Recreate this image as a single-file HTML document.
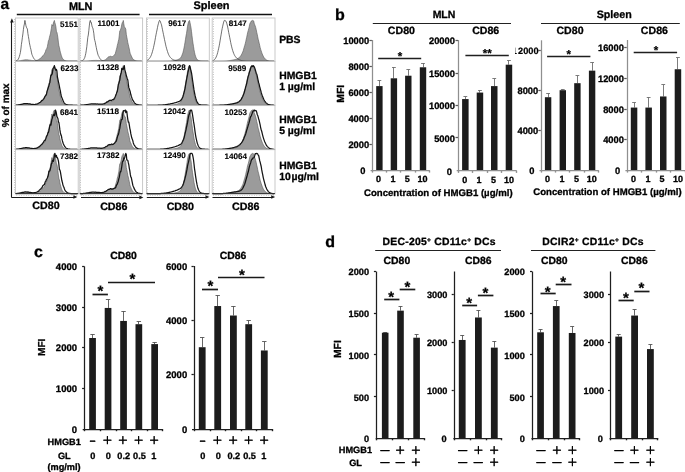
<!DOCTYPE html>
<html lang="en"><head><meta charset="utf-8"><title>Figure</title>
<style>
html,body{margin:0;padding:0;background:#fff;}
body{width:685px;height:472px;overflow:hidden;font-family:'Liberation Sans', Arial, Helvetica, sans-serif;}
svg{display:block;font-family:'Liberation Sans', Arial, Helvetica, sans-serif;}
text{stroke:#000;stroke-width:0.3px;stroke-linejoin:round;text-rendering:geometricPrecision;}
</style></head><body>
<svg width="685" height="472" viewBox="0 0 685 472">
<rect x="0" y="0" width="685" height="472" fill="#ffffff"/>
<g id="panelA">
<rect x="15.40" y="18.00" width="62.80" height="43.50" fill="#fff" stroke="#c4c4c4" stroke-width="0.9"/>
<path d="M15.90,61.13 L16.40,61.11 L16.90,61.09 L17.40,61.06 L17.90,61.01 L18.40,60.97 L18.90,60.90 L19.40,60.84 L19.90,60.78 L20.40,60.72 L20.90,60.61 L21.40,60.46 L21.90,60.39 L22.40,60.31 L22.90,60.23 L23.40,60.11 L23.90,60.02 L24.40,59.95 L24.90,59.80 L25.40,59.81 L25.90,59.86 L26.40,59.87 L26.90,59.83 L27.40,59.79 L27.90,59.92 L28.40,59.98 L28.90,60.04 L29.40,60.14 L29.90,60.18 L30.40,60.24 L30.90,60.26 L31.40,60.39 L31.90,60.50 L32.40,60.52 L32.90,60.56 L33.40,60.58 L33.90,60.62 L34.40,60.63 L34.90,60.62 L35.40,60.62 L35.90,60.52 L36.40,60.38 L36.90,60.25 L37.40,60.12 L37.90,59.99 L38.40,59.66 L38.90,59.38 L39.40,59.05 L39.90,58.62 L40.40,58.29 L40.90,57.92 L41.40,57.67 L41.90,56.91 L42.40,56.07 L42.90,55.72 L43.40,55.21 L43.90,54.72 L44.40,53.72 L44.90,52.83 L45.40,51.78 L45.90,49.88 L46.40,49.15 L46.90,48.18 L47.40,46.51 L47.90,43.80 L48.40,40.78 L48.90,39.97 L49.40,37.53 L49.90,35.45 L50.40,33.92 L50.90,30.93 L51.40,28.23 L51.90,24.51 L52.40,25.45 L52.90,26.03 L53.40,22.87 L53.90,21.50 L54.40,20.40 L54.90,22.87 L55.40,24.31 L55.90,26.78 L56.40,31.37 L56.90,32.23 L57.40,34.38 L57.90,37.75 L58.40,42.14 L58.90,45.80 L59.40,47.46 L59.90,50.15 L60.40,52.24 L60.90,53.98 L61.40,55.76 L61.90,57.13 L62.40,58.29 L62.90,58.84 L63.40,59.39 L63.90,59.94 L64.40,60.30 L64.90,60.56 L65.40,60.71 L65.90,60.84 L66.40,60.93 L66.90,60.98 L67.40,61.04 L67.90,61.07 L68.40,61.10 L68.90,61.11 L69.40,61.12 L69.90,61.14 L70.40,61.14 L70.90,61.15 L71.40,61.16 L71.90,61.16 L72.40,61.17 L72.90,61.17 L73.40,61.18 L73.90,61.18 L74.40,61.18 L74.90,61.18 L75.40,61.18 L75.90,61.19 L76.40,61.19 L76.90,61.19 L77.40,61.19 L77.40,61.20 L15.90,61.20 Z" fill="#9b9b9b" stroke="#555" stroke-width="0.6" stroke-linejoin="round"/>
<path d="M15.90,60.90 L16.40,60.78 L16.90,60.60 L17.40,60.23 L17.90,59.71 L18.40,58.97 L18.90,57.80 L19.40,56.38 L19.90,54.50 L20.40,52.45 L20.90,49.02 L21.40,44.45 L21.90,41.15 L22.40,37.33 L22.90,33.90 L23.40,29.51 L23.90,26.08 L24.40,24.04 L24.90,20.40 L25.40,22.61 L25.90,25.53 L26.40,27.23 L26.90,28.12 L27.40,29.04 L27.90,33.52 L28.40,36.49 L28.90,39.42 L29.40,42.87 L29.90,45.20 L30.40,47.59 L30.90,49.45 L31.40,52.11 L31.90,54.35 L32.40,55.53 L32.90,56.72 L33.40,57.68 L33.90,58.59 L34.40,59.24 L34.90,59.73 L35.40,60.18 L35.90,60.40 L36.40,60.58 L36.90,60.74 L37.40,60.87 L37.90,60.96 L38.40,61.00 L38.90,61.04 L39.40,61.07 L39.90,61.09 L40.40,61.11 L40.90,61.12 L41.40,61.14 L41.90,61.14 L42.40,61.15 L42.90,61.16 L43.40,61.16 L43.90,61.17 L44.40,61.17 L44.90,61.17 L45.40,61.18 L45.90,61.18 L46.40,61.18 L46.90,61.18 L47.40,61.19 L47.90,61.19 L48.40,61.19 L48.90,61.19 L49.40,61.19 L49.90,61.19 L50.40,61.19 L50.90,61.19 L51.40,61.19 L51.90,61.20 L52.40,61.20 L52.90,61.20 L53.40,61.20 L53.90,61.20 L54.40,61.20 L54.90,61.20 L55.40,61.20 L55.90,61.20 L56.40,61.20 L56.90,61.20 L57.40,61.20 L57.90,61.20 L58.40,61.20 L58.90,61.20 L59.40,61.20 L59.90,61.20 L60.40,61.20 L60.90,61.20 L61.40,61.20 L61.90,61.20 L62.40,61.20 L62.90,61.20 L63.40,61.20 L63.90,61.20 L64.40,61.20 L64.90,61.20 L65.40,61.20 L65.90,61.20 L66.40,61.20 L66.90,61.20 L67.40,61.20 L67.90,61.20 L68.40,61.20 L68.90,61.20 L69.40,61.20 L69.90,61.20 L70.40,61.20 L70.90,61.20 L71.40,61.20 L71.90,61.20 L72.40,61.20 L72.90,61.20 L73.40,61.20 L73.90,61.20 L74.40,61.20 L74.90,61.20 L75.40,61.20 L75.90,61.20 L76.40,61.20 L76.90,61.20 L77.40,61.20" fill="none" stroke="#333" stroke-width="0.7" stroke-linejoin="round"/>
<line x1="15.40" y1="61.50" x2="78.20" y2="61.50" stroke="#333" stroke-width="0.9" />
<rect x="15.40" y="61.50" width="62.80" height="44.10" fill="#fff" stroke="#c4c4c4" stroke-width="0.9"/>
<path d="M15.90,105.23 L16.40,105.22 L16.90,105.20 L17.40,105.16 L17.90,105.12 L18.40,105.07 L18.90,105.01 L19.40,104.95 L19.90,104.89 L20.40,104.83 L20.90,104.72 L21.40,104.57 L21.90,104.52 L22.40,104.43 L22.90,104.36 L23.40,104.24 L23.90,104.15 L24.40,104.08 L24.90,103.93 L25.40,103.96 L25.90,104.00 L26.40,104.00 L26.90,103.96 L27.40,103.93 L27.90,104.06 L28.40,104.11 L28.90,104.17 L29.40,104.27 L29.90,104.30 L30.40,104.36 L30.90,104.39 L31.40,104.51 L31.90,104.62 L32.40,104.64 L32.90,104.68 L33.40,104.70 L33.90,104.74 L34.40,104.75 L34.90,104.73 L35.40,104.73 L35.90,104.63 L36.40,104.50 L36.90,104.37 L37.40,104.26 L37.90,104.12 L38.40,103.79 L38.90,103.53 L39.40,103.20 L39.90,102.78 L40.40,102.47 L40.90,102.12 L41.40,101.85 L41.90,101.08 L42.40,100.30 L42.90,99.99 L43.40,99.47 L43.90,98.97 L44.40,98.00 L44.90,97.15 L45.40,96.07 L45.90,94.25 L46.40,93.64 L46.90,92.65 L47.40,90.92 L47.90,88.24 L48.40,85.44 L48.90,84.69 L49.40,82.20 L49.90,80.24 L50.40,78.74 L50.90,75.71 L51.40,72.99 L51.90,69.60 L52.40,70.75 L52.90,70.99 L53.40,67.74 L53.90,66.54 L54.40,65.60 L54.90,67.97 L55.40,69.32 L55.90,71.92 L56.40,76.24 L56.90,76.86 L57.40,79.10 L57.90,82.55 L58.40,86.83 L58.90,90.24 L59.40,91.87 L59.90,94.55 L60.40,96.55 L60.90,98.26 L61.40,100.01 L61.90,101.35 L62.40,102.45 L62.90,102.98 L63.40,103.54 L63.90,104.08 L64.40,104.42 L64.90,104.67 L65.40,104.82 L65.90,104.95 L66.40,105.03 L66.90,105.08 L67.40,105.14 L67.90,105.18 L68.40,105.20 L68.90,105.21 L69.40,105.22 L69.90,105.24 L70.40,105.25 L70.90,105.25 L71.40,105.26 L71.90,105.26 L72.40,105.27 L72.90,105.27 L73.40,105.28 L73.90,105.28 L74.40,105.28 L74.90,105.28 L75.40,105.29 L75.90,105.29 L76.40,105.29 L76.90,105.29 L77.40,105.29 L77.40,105.30 L15.90,105.30 Z" fill="#9b9b9b" stroke="#555" stroke-width="0.6" stroke-linejoin="round"/>
<path d="M15.90,105.16 L16.40,105.12 L16.90,105.07 L17.40,105.01 L17.90,104.95 L18.40,104.86 L18.90,104.82 L19.40,104.76 L19.90,104.62 L20.40,104.49 L20.90,104.36 L21.40,104.32 L21.90,104.22 L22.40,104.07 L22.90,104.02 L23.40,103.84 L23.90,103.71 L24.40,103.64 L24.90,103.68 L25.40,103.72 L25.90,103.50 L26.40,103.50 L26.90,103.56 L27.40,103.63 L27.90,103.73 L28.40,103.77 L28.90,103.91 L29.40,103.88 L29.90,103.91 L30.40,104.10 L30.90,104.22 L31.40,104.32 L31.90,104.31 L32.40,104.37 L32.90,104.45 L33.40,104.45 L33.90,104.51 L34.40,104.51 L34.90,104.47 L35.40,104.35 L35.90,104.21 L36.40,104.20 L36.90,104.04 L37.40,103.84 L37.90,103.59 L38.40,103.29 L38.90,103.03 L39.40,102.60 L39.90,102.49 L40.40,102.24 L40.90,101.60 L41.40,101.03 L41.90,100.48 L42.40,100.38 L42.90,99.79 L43.40,99.10 L43.90,98.73 L44.40,97.56 L44.90,96.61 L45.40,95.70 L45.90,95.36 L46.40,94.52 L46.90,91.82 L47.40,90.32 L47.90,88.75 L48.40,87.28 L48.90,85.70 L49.40,83.49 L49.90,82.41 L50.40,78.02 L50.90,75.15 L51.40,75.25 L51.90,74.43 L52.40,73.08 L52.90,68.60 L53.40,67.94 L53.90,67.53 L54.40,65.60 L54.90,68.06 L55.40,69.26 L55.90,70.30 L56.40,69.32 L56.90,71.00 L57.40,76.83 L57.90,79.05 L58.40,81.57 L58.90,83.78 L59.40,86.30 L59.90,89.07 L60.40,91.06 L60.90,94.50 L61.40,96.55 L61.90,97.65 L62.40,98.98 L62.90,100.28 L63.40,101.70 L63.90,102.45 L64.40,103.09 L64.90,103.67 L65.40,103.99 L65.90,104.31 L66.40,104.56 L66.90,104.79 L67.40,104.91 L67.90,104.97 L68.40,105.05 L68.90,105.10 L69.40,105.14 L69.90,105.17 L70.40,105.19 L70.90,105.21 L71.40,105.22 L71.90,105.23 L72.40,105.24 L72.90,105.25 L73.40,105.26 L73.90,105.26 L74.40,105.26 L74.90,105.27 L75.40,105.27 L75.90,105.28 L76.40,105.28 L76.90,105.28 L77.40,105.28" fill="none" stroke="#141414" stroke-width="1.25" stroke-linejoin="round"/>
<line x1="15.40" y1="105.50" x2="78.20" y2="105.50" stroke="#333" stroke-width="0.9" />
<rect x="15.40" y="105.60" width="62.80" height="44.10" fill="#fff" stroke="#c4c4c4" stroke-width="0.9"/>
<path d="M15.90,149.33 L16.40,149.32 L16.90,149.30 L17.40,149.26 L17.90,149.22 L18.40,149.17 L18.90,149.11 L19.40,149.06 L19.90,148.99 L20.40,148.94 L20.90,148.81 L21.40,148.68 L21.90,148.62 L22.40,148.54 L22.90,148.46 L23.40,148.35 L23.90,148.26 L24.40,148.18 L24.90,148.04 L25.40,148.08 L25.90,148.11 L26.40,148.10 L26.90,148.06 L27.40,148.04 L27.90,148.17 L28.40,148.21 L28.90,148.28 L29.40,148.37 L29.90,148.41 L30.40,148.46 L30.90,148.49 L31.40,148.62 L31.90,148.72 L32.40,148.74 L32.90,148.78 L33.40,148.80 L33.90,148.84 L34.40,148.85 L34.90,148.84 L35.40,148.84 L35.90,148.73 L36.40,148.60 L36.90,148.48 L37.40,148.37 L37.90,148.22 L38.40,147.89 L38.90,147.64 L39.40,147.31 L39.90,146.89 L40.40,146.60 L40.90,146.26 L41.40,145.96 L41.90,145.17 L42.40,144.43 L42.90,144.15 L43.40,143.61 L43.90,143.10 L44.40,142.14 L44.90,141.30 L45.40,140.18 L45.90,138.42 L46.40,137.89 L46.90,136.85 L47.40,135.03 L47.90,132.34 L48.40,129.72 L48.90,128.98 L49.40,126.40 L49.90,124.54 L50.40,123.02 L50.90,119.88 L51.40,117.13 L51.90,114.01 L52.40,115.35 L52.90,115.22 L53.40,111.86 L53.90,110.83 L54.40,110.00 L54.90,112.30 L55.40,113.62 L55.90,116.38 L56.40,120.49 L56.90,120.92 L57.40,123.31 L57.90,126.91 L58.40,131.14 L58.90,134.37 L59.40,136.01 L59.90,138.73 L60.40,140.68 L60.90,142.40 L61.40,144.16 L61.90,145.50 L62.40,146.56 L62.90,147.08 L63.40,147.65 L63.90,148.19 L64.40,148.53 L64.90,148.78 L65.40,148.93 L65.90,149.05 L66.40,149.13 L66.90,149.19 L67.40,149.24 L67.90,149.28 L68.40,149.30 L68.90,149.31 L69.40,149.32 L69.90,149.34 L70.40,149.35 L70.90,149.35 L71.40,149.36 L71.90,149.36 L72.40,149.37 L72.90,149.37 L73.40,149.38 L73.90,149.38 L74.40,149.38 L74.90,149.38 L75.40,149.39 L75.90,149.39 L76.40,149.39 L76.90,149.39 L77.40,149.39 L77.40,149.40 L15.90,149.40 Z" fill="#9b9b9b" stroke="#555" stroke-width="0.6" stroke-linejoin="round"/>
<path d="M15.90,149.25 L16.40,149.22 L16.90,149.17 L17.40,149.11 L17.90,149.07 L18.40,149.02 L18.90,148.94 L19.40,148.80 L19.90,148.72 L20.40,148.66 L20.90,148.54 L21.40,148.46 L21.90,148.33 L22.40,148.23 L22.90,148.05 L23.40,147.93 L23.90,148.00 L24.40,147.92 L24.90,147.80 L25.40,147.67 L25.90,147.65 L26.40,147.74 L26.90,147.71 L27.40,147.84 L27.90,147.90 L28.40,147.86 L28.90,147.90 L29.40,147.99 L29.90,148.21 L30.40,148.25 L30.90,148.27 L31.40,148.36 L31.90,148.40 L32.40,148.48 L32.90,148.52 L33.40,148.60 L33.90,148.61 L34.40,148.49 L34.90,148.45 L35.40,148.41 L35.90,148.35 L36.40,148.19 L36.90,147.95 L37.40,147.79 L37.90,147.42 L38.40,147.12 L38.90,146.94 L39.40,146.65 L39.90,146.22 L40.40,145.40 L40.90,145.06 L41.40,144.76 L41.90,144.16 L42.40,143.75 L42.90,142.97 L43.40,142.38 L43.90,141.23 L44.40,140.49 L44.90,140.67 L45.40,139.60 L45.90,138.26 L46.40,136.53 L46.90,135.56 L47.40,134.83 L47.90,132.85 L48.40,132.47 L48.90,130.70 L49.40,127.83 L49.90,125.49 L50.40,124.15 L50.90,125.12 L51.40,122.20 L51.90,119.39 L52.40,118.13 L52.90,115.86 L53.40,115.45 L53.90,114.18 L54.40,115.67 L54.90,114.42 L55.40,110.00 L55.90,111.25 L56.40,113.43 L56.90,116.65 L57.40,117.43 L57.90,118.47 L58.40,121.87 L58.90,122.67 L59.40,125.97 L59.90,129.89 L60.40,132.90 L60.90,134.87 L61.40,135.84 L61.90,138.70 L62.40,140.92 L62.90,142.48 L63.40,144.01 L63.90,145.02 L64.40,146.00 L64.90,146.59 L65.40,147.31 L65.90,147.97 L66.40,148.28 L66.90,148.53 L67.40,148.71 L67.90,148.90 L68.40,149.03 L68.90,149.11 L69.40,149.19 L69.90,149.22 L70.40,149.25 L70.90,149.27 L71.40,149.30 L71.90,149.32 L72.40,149.33 L72.90,149.34 L73.40,149.34 L73.90,149.35 L74.40,149.36 L74.90,149.36 L75.40,149.37 L75.90,149.37 L76.40,149.37 L76.90,149.38 L77.40,149.38" fill="none" stroke="#141414" stroke-width="1.25" stroke-linejoin="round"/>
<line x1="15.40" y1="149.50" x2="78.20" y2="149.50" stroke="#333" stroke-width="0.9" />
<rect x="15.40" y="149.70" width="62.80" height="44.30" fill="#fff" stroke="#c4c4c4" stroke-width="0.9"/>
<path d="M15.90,193.63 L16.40,193.62 L16.90,193.59 L17.40,193.55 L17.90,193.52 L18.40,193.47 L18.90,193.40 L19.40,193.35 L19.90,193.29 L20.40,193.22 L20.90,193.09 L21.40,192.96 L21.90,192.91 L22.40,192.82 L22.90,192.74 L23.40,192.62 L23.90,192.53 L24.40,192.45 L24.90,192.30 L25.40,192.35 L25.90,192.38 L26.40,192.36 L26.90,192.32 L27.40,192.31 L27.90,192.44 L28.40,192.48 L28.90,192.55 L29.40,192.65 L29.90,192.68 L30.40,192.73 L30.90,192.77 L31.40,192.91 L31.90,193.01 L32.40,193.02 L32.90,193.06 L33.40,193.09 L33.90,193.13 L34.40,193.14 L34.90,193.13 L35.40,193.12 L35.90,193.01 L36.40,192.88 L36.90,192.77 L37.40,192.65 L37.90,192.49 L38.40,192.15 L38.90,191.90 L39.40,191.55 L39.90,191.13 L40.40,190.84 L40.90,190.50 L41.40,190.17 L41.90,189.33 L42.40,188.62 L42.90,188.35 L43.40,187.77 L43.90,187.23 L44.40,186.26 L44.90,185.41 L45.40,184.21 L45.90,182.46 L46.40,182.00 L46.90,180.86 L47.40,178.89 L47.90,176.14 L48.40,173.61 L48.90,172.84 L49.40,170.10 L49.90,168.30 L50.40,166.69 L50.90,163.33 L51.40,160.49 L51.90,157.58 L52.40,159.10 L52.90,158.58 L53.40,155.05 L53.90,154.17 L54.40,153.40 L54.90,155.70 L55.40,157.05 L55.90,160.05 L56.40,164.04 L56.90,164.31 L57.40,166.96 L57.90,170.79 L58.40,175.08 L58.90,178.23 L59.40,179.95 L59.90,182.78 L60.40,184.75 L60.90,186.53 L61.40,188.36 L61.90,189.72 L62.40,190.78 L62.90,191.30 L63.40,191.91 L63.90,192.47 L64.40,192.81 L64.90,193.06 L65.40,193.21 L65.90,193.34 L66.40,193.42 L66.90,193.48 L67.40,193.54 L67.90,193.58 L68.40,193.60 L68.90,193.61 L69.40,193.62 L69.90,193.64 L70.40,193.64 L70.90,193.65 L71.40,193.66 L71.90,193.66 L72.40,193.67 L72.90,193.67 L73.40,193.68 L73.90,193.68 L74.40,193.68 L74.90,193.68 L75.40,193.69 L75.90,193.69 L76.40,193.69 L76.90,193.69 L77.40,193.69 L77.40,193.70 L15.90,193.70 Z" fill="#9b9b9b" stroke="#555" stroke-width="0.6" stroke-linejoin="round"/>
<path d="M15.90,193.54 L16.40,193.50 L16.90,193.46 L17.40,193.43 L17.90,193.36 L18.40,193.26 L18.90,193.18 L19.40,193.10 L19.90,193.03 L20.40,192.91 L20.90,192.82 L21.40,192.71 L21.90,192.49 L22.40,192.42 L22.90,192.36 L23.40,192.34 L23.90,192.17 L24.40,191.98 L24.90,192.00 L25.40,191.91 L25.90,191.92 L26.40,191.98 L26.90,192.02 L27.40,192.03 L27.90,191.92 L28.40,192.09 L28.90,192.26 L29.40,192.32 L29.90,192.37 L30.40,192.39 L30.90,192.52 L31.40,192.56 L31.90,192.64 L32.40,192.78 L32.90,192.77 L33.40,192.75 L33.90,192.69 L34.40,192.71 L34.90,192.71 L35.40,192.56 L35.90,192.45 L36.40,192.24 L36.90,191.98 L37.40,191.69 L37.90,191.43 L38.40,191.32 L38.90,190.74 L39.40,190.11 L39.90,189.65 L40.40,189.21 L40.90,188.87 L41.40,188.08 L41.90,187.69 L42.40,186.87 L42.90,185.55 L43.40,185.15 L43.90,184.77 L44.40,184.50 L44.90,182.94 L45.40,181.38 L45.90,180.96 L46.40,179.47 L46.90,178.73 L47.40,177.75 L47.90,176.59 L48.40,174.54 L48.90,171.10 L49.40,171.19 L49.90,170.72 L50.40,168.87 L50.90,166.59 L51.40,163.79 L51.90,163.32 L52.40,160.44 L52.90,160.09 L53.40,161.36 L53.90,158.67 L54.40,156.15 L54.90,153.40 L55.40,155.66 L55.90,156.91 L56.40,155.45 L56.90,157.53 L57.40,157.68 L57.90,159.06 L58.40,160.94 L58.90,164.69 L59.40,169.59 L59.90,170.00 L60.40,171.87 L60.90,174.83 L61.40,177.92 L61.90,180.80 L62.40,182.48 L62.90,184.86 L63.40,186.18 L63.90,187.24 L64.40,188.79 L64.90,190.00 L65.40,190.96 L65.90,191.40 L66.40,191.88 L66.90,192.38 L67.40,192.67 L67.90,192.95 L68.40,193.14 L68.90,193.28 L69.40,193.36 L69.90,193.41 L70.40,193.49 L70.90,193.54 L71.40,193.57 L71.90,193.58 L72.40,193.60 L72.90,193.62 L73.40,193.62 L73.90,193.64 L74.40,193.65 L74.90,193.65 L75.40,193.66 L75.90,193.66 L76.40,193.67 L76.90,193.67 L77.40,193.67" fill="none" stroke="#141414" stroke-width="1.25" stroke-linejoin="round"/>
<line x1="15.40" y1="193.50" x2="78.20" y2="193.50" stroke="#333" stroke-width="0.9" />
<rect x="79.80" y="18.00" width="62.80" height="43.50" fill="#fff" stroke="#c4c4c4" stroke-width="0.9"/>
<path d="M80.30,61.19 L80.80,61.18 L81.30,61.18 L81.80,61.17 L82.30,61.17 L82.80,61.16 L83.30,61.14 L83.80,61.13 L84.30,61.12 L84.80,61.10 L85.30,61.08 L85.80,61.06 L86.30,61.03 L86.80,61.00 L87.30,60.95 L87.80,60.93 L88.30,60.91 L88.80,60.85 L89.30,60.79 L89.80,60.74 L90.30,60.71 L90.80,60.68 L91.30,60.62 L91.80,60.61 L92.30,60.54 L92.80,60.47 L93.30,60.45 L93.80,60.45 L94.30,60.48 L94.80,60.41 L95.30,60.39 L95.80,60.41 L96.30,60.40 L96.80,60.44 L97.30,60.46 L97.80,60.50 L98.30,60.48 L98.80,60.44 L99.30,60.51 L99.80,60.55 L100.30,60.57 L100.80,60.57 L101.30,60.57 L101.80,60.59 L102.30,60.55 L102.80,60.55 L103.30,60.53 L103.80,60.42 L104.30,60.24 L104.80,59.96 L105.30,59.77 L105.80,59.45 L106.30,58.99 L106.80,58.58 L107.30,57.97 L107.80,57.44 L108.30,56.86 L108.80,56.72 L109.30,56.78 L109.80,56.35 L110.30,56.27 L110.80,56.29 L111.30,56.53 L111.80,56.66 L112.30,56.55 L112.80,56.68 L113.30,56.17 L113.80,55.48 L114.30,54.96 L114.80,54.36 L115.30,53.61 L115.80,51.52 L116.30,49.70 L116.80,47.95 L117.30,45.39 L117.80,43.59 L118.30,41.23 L118.80,39.30 L119.30,35.14 L119.80,30.80 L120.30,30.48 L120.80,28.85 L121.30,27.22 L121.80,24.21 L122.30,22.44 L122.80,22.26 L123.30,20.40 L123.80,23.74 L124.30,26.62 L124.80,27.39 L125.30,27.99 L125.80,29.29 L126.30,34.37 L126.80,37.12 L127.30,39.53 L127.80,42.63 L128.30,44.56 L128.80,46.93 L129.30,48.88 L129.80,51.67 L130.30,53.81 L130.80,54.73 L131.30,55.95 L131.80,57.03 L132.30,58.07 L132.80,58.80 L133.30,59.34 L133.80,59.85 L134.30,60.11 L134.80,60.34 L135.30,60.57 L135.80,60.74 L136.30,60.86 L136.80,60.91 L137.30,60.97 L137.80,61.02 L138.30,61.05 L138.80,61.08 L139.30,61.10 L139.80,61.12 L140.30,61.12 L140.80,61.13 L141.30,61.14 L141.80,61.15 L141.80,61.20 L80.30,61.20 Z" fill="#9b9b9b" stroke="#555" stroke-width="0.6" stroke-linejoin="round"/>
<path d="M80.30,61.08 L80.80,61.05 L81.30,60.98 L81.80,60.88 L82.30,60.74 L82.80,60.51 L83.30,60.12 L83.80,59.40 L84.30,58.49 L84.80,57.38 L85.30,55.57 L85.80,53.37 L86.30,50.25 L86.80,46.73 L87.30,42.13 L87.80,37.32 L88.30,35.00 L88.80,30.69 L89.30,25.95 L89.80,21.84 L90.30,20.40 L90.80,22.49 L91.30,22.40 L91.80,25.16 L92.30,27.19 L92.80,27.89 L93.30,30.20 L93.80,33.28 L94.30,38.19 L94.80,40.48 L95.30,42.27 L95.80,45.23 L96.30,47.54 L96.80,50.11 L97.30,52.08 L97.80,54.07 L98.30,55.55 L98.80,56.36 L99.30,57.48 L99.80,58.42 L100.30,59.16 L100.80,59.63 L101.30,59.96 L101.80,60.30 L102.30,60.50 L102.80,60.67 L103.30,60.81 L103.80,60.91 L104.30,60.97 L104.80,61.00 L105.30,61.04 L105.80,61.08 L106.30,61.09 L106.80,61.11 L107.30,61.12 L107.80,61.13 L108.30,61.14 L108.80,61.15 L109.30,61.16 L109.80,61.16 L110.30,61.16 L110.80,61.17 L111.30,61.17 L111.80,61.18 L112.30,61.18 L112.80,61.18 L113.30,61.18 L113.80,61.18 L114.30,61.19 L114.80,61.19 L115.30,61.19 L115.80,61.19 L116.30,61.19 L116.80,61.19 L117.30,61.19 L117.80,61.19 L118.30,61.19 L118.80,61.20 L119.30,61.20 L119.80,61.20 L120.30,61.20 L120.80,61.20 L121.30,61.20 L121.80,61.20 L122.30,61.20 L122.80,61.20 L123.30,61.20 L123.80,61.20 L124.30,61.20 L124.80,61.20 L125.30,61.20 L125.80,61.20 L126.30,61.20 L126.80,61.20 L127.30,61.20 L127.80,61.20 L128.30,61.20 L128.80,61.20 L129.30,61.20 L129.80,61.20 L130.30,61.20 L130.80,61.20 L131.30,61.20 L131.80,61.20 L132.30,61.20 L132.80,61.20 L133.30,61.20 L133.80,61.20 L134.30,61.20 L134.80,61.20 L135.30,61.20 L135.80,61.20 L136.30,61.20 L136.80,61.20 L137.30,61.20 L137.80,61.20 L138.30,61.20 L138.80,61.20 L139.30,61.20 L139.80,61.20 L140.30,61.20 L140.80,61.20 L141.30,61.20 L141.80,61.20" fill="none" stroke="#333" stroke-width="0.7" stroke-linejoin="round"/>
<line x1="79.80" y1="61.50" x2="142.60" y2="61.50" stroke="#333" stroke-width="0.9" />
<rect x="79.80" y="61.50" width="62.80" height="44.10" fill="#fff" stroke="#c4c4c4" stroke-width="0.9"/>
<path d="M80.30,105.29 L80.80,105.28 L81.30,105.28 L81.80,105.27 L82.30,105.27 L82.80,105.26 L83.30,105.25 L83.80,105.23 L84.30,105.22 L84.80,105.21 L85.30,105.18 L85.80,105.16 L86.30,105.13 L86.80,105.10 L87.30,105.06 L87.80,105.04 L88.30,105.02 L88.80,104.96 L89.30,104.90 L89.80,104.86 L90.30,104.82 L90.80,104.79 L91.30,104.73 L91.80,104.72 L92.30,104.66 L92.80,104.58 L93.30,104.58 L93.80,104.58 L94.30,104.59 L94.80,104.52 L95.30,104.51 L95.80,104.54 L96.30,104.52 L96.80,104.56 L97.30,104.58 L97.80,104.61 L98.30,104.59 L98.80,104.56 L99.30,104.64 L99.80,104.67 L100.30,104.69 L100.80,104.69 L101.30,104.69 L101.80,104.70 L102.30,104.66 L102.80,104.67 L103.30,104.65 L103.80,104.54 L104.30,104.36 L104.80,104.10 L105.30,103.92 L105.80,103.60 L106.30,103.14 L106.80,102.75 L107.30,102.15 L107.80,101.63 L108.30,101.09 L108.80,100.98 L109.30,100.99 L109.80,100.54 L110.30,100.49 L110.80,100.54 L111.30,100.76 L111.80,100.88 L112.30,100.79 L112.80,100.91 L113.30,100.37 L113.80,99.72 L114.30,99.26 L114.80,98.69 L115.30,97.89 L115.80,95.83 L116.30,94.13 L116.80,92.41 L117.30,89.91 L117.80,88.21 L118.30,85.94 L118.80,83.94 L119.30,79.74 L119.80,75.77 L120.30,75.62 L120.80,73.86 L121.30,72.14 L121.80,69.24 L122.30,67.64 L122.80,67.30 L123.30,65.60 L123.80,69.11 L124.30,71.70 L124.80,72.21 L125.30,72.82 L125.80,74.37 L126.30,79.33 L126.80,81.82 L127.30,84.21 L127.80,87.24 L128.30,89.07 L128.80,91.37 L129.30,93.35 L129.80,96.10 L130.30,98.09 L130.80,98.96 L131.30,100.19 L131.80,101.25 L132.30,102.26 L132.80,102.96 L133.30,103.49 L133.80,103.99 L134.30,104.23 L134.80,104.47 L135.30,104.69 L135.80,104.86 L136.30,104.97 L136.80,105.02 L137.30,105.08 L137.80,105.12 L138.30,105.15 L138.80,105.18 L139.30,105.20 L139.80,105.22 L140.30,105.22 L140.80,105.23 L141.30,105.24 L141.80,105.25 L141.80,105.30 L80.30,105.30 Z" fill="#9b9b9b" stroke="#555" stroke-width="0.6" stroke-linejoin="round"/>
<path d="M80.30,105.23 L80.80,105.22 L81.30,105.20 L81.80,105.17 L82.30,105.13 L82.80,105.10 L83.30,105.07 L83.80,105.02 L84.30,104.98 L84.80,104.91 L85.30,104.84 L85.80,104.74 L86.30,104.68 L86.80,104.67 L87.30,104.55 L87.80,104.44 L88.30,104.31 L88.80,104.25 L89.30,104.19 L89.80,104.08 L90.30,104.09 L90.80,103.98 L91.30,103.83 L91.80,103.76 L92.30,103.78 L92.80,103.89 L93.30,103.79 L93.80,103.76 L94.30,103.79 L94.80,103.78 L95.30,103.85 L95.80,103.88 L96.30,104.01 L96.80,103.98 L97.30,103.89 L97.80,104.00 L98.30,104.08 L98.80,104.16 L99.30,104.15 L99.80,104.16 L100.30,104.21 L100.80,104.14 L101.30,104.18 L101.80,104.22 L102.30,104.19 L102.80,104.05 L103.30,103.83 L103.80,103.78 L104.30,103.63 L104.80,103.39 L105.30,103.19 L105.80,102.83 L106.30,102.49 L106.80,101.96 L107.30,101.79 L107.80,101.79 L108.30,101.29 L108.80,100.88 L109.30,100.46 L109.80,100.45 L110.30,100.41 L110.80,100.25 L111.30,100.55 L111.80,100.20 L112.30,99.78 L112.80,99.50 L113.30,99.47 L113.80,99.51 L114.30,98.40 L114.80,97.52 L115.30,96.53 L115.80,95.08 L116.30,93.91 L116.80,92.32 L117.30,91.41 L117.80,88.37 L118.30,84.58 L118.80,83.23 L119.30,81.47 L119.80,80.09 L120.30,76.47 L120.80,74.01 L121.30,72.44 L121.80,68.26 L122.30,68.78 L122.80,69.51 L123.30,69.23 L123.80,67.38 L124.30,65.60 L124.80,69.82 L125.30,71.47 L125.80,73.25 L126.30,75.75 L126.80,77.05 L127.30,79.07 L127.80,79.89 L128.30,84.00 L128.80,87.69 L129.30,88.82 L129.80,90.50 L130.30,92.06 L130.80,94.54 L131.30,96.21 L131.80,97.62 L132.30,99.36 L132.80,100.10 L133.30,100.87 L133.80,101.69 L134.30,102.58 L134.80,103.27 L135.30,103.55 L135.80,103.92 L136.30,104.21 L136.80,104.43 L137.30,104.64 L137.80,104.78 L138.30,104.92 L138.80,104.97 L139.30,105.02 L139.80,105.08 L140.30,105.12 L140.80,105.16 L141.30,105.17 L141.80,105.19" fill="none" stroke="#141414" stroke-width="1.25" stroke-linejoin="round"/>
<line x1="79.80" y1="105.50" x2="142.60" y2="105.50" stroke="#333" stroke-width="0.9" />
<rect x="79.80" y="105.60" width="62.80" height="44.10" fill="#fff" stroke="#c4c4c4" stroke-width="0.9"/>
<path d="M80.30,149.39 L80.80,149.38 L81.30,149.38 L81.80,149.37 L82.30,149.37 L82.80,149.36 L83.30,149.35 L83.80,149.33 L84.30,149.32 L84.80,149.31 L85.30,149.28 L85.80,149.26 L86.30,149.23 L86.80,149.20 L87.30,149.16 L87.80,149.14 L88.30,149.12 L88.80,149.06 L89.30,149.01 L89.80,148.96 L90.30,148.93 L90.80,148.89 L91.30,148.84 L91.80,148.83 L92.30,148.76 L92.80,148.69 L93.30,148.68 L93.80,148.69 L94.30,148.70 L94.80,148.63 L95.30,148.62 L95.80,148.64 L96.30,148.63 L96.80,148.67 L97.30,148.69 L97.80,148.72 L98.30,148.69 L98.80,148.67 L99.30,148.74 L99.80,148.77 L100.30,148.79 L100.80,148.79 L101.30,148.79 L101.80,148.81 L102.30,148.77 L102.80,148.78 L103.30,148.76 L103.80,148.64 L104.30,148.46 L104.80,148.21 L105.30,148.04 L105.80,147.70 L106.30,147.26 L106.80,146.87 L107.30,146.27 L107.80,145.74 L108.30,145.23 L108.80,145.15 L109.30,145.11 L109.80,144.65 L110.30,144.63 L110.80,144.68 L111.30,144.90 L111.80,145.00 L112.30,144.93 L112.80,145.04 L113.30,144.47 L113.80,143.86 L114.30,143.44 L114.80,142.86 L115.30,142.01 L115.80,139.95 L116.30,138.34 L116.80,136.60 L117.30,134.12 L117.80,132.48 L118.30,130.23 L118.80,128.12 L119.30,123.83 L119.80,120.15 L120.30,120.13 L120.80,118.18 L121.30,116.37 L121.80,113.53 L122.30,112.04 L122.80,111.55 L123.30,110.00 L123.80,113.72 L124.30,116.04 L124.80,116.33 L125.30,117.01 L125.80,118.82 L126.30,123.73 L126.80,126.03 L127.30,128.47 L127.80,131.47 L128.30,133.23 L128.80,135.53 L129.30,137.57 L129.80,140.34 L130.30,142.21 L130.80,143.07 L131.30,144.33 L131.80,145.39 L132.30,146.39 L132.80,147.08 L133.30,147.61 L133.80,148.10 L134.30,148.33 L134.80,148.57 L135.30,148.80 L135.80,148.96 L136.30,149.07 L136.80,149.12 L137.30,149.18 L137.80,149.23 L138.30,149.26 L138.80,149.28 L139.30,149.30 L139.80,149.32 L140.30,149.32 L140.80,149.33 L141.30,149.35 L141.80,149.35 L141.80,149.40 L80.30,149.40 Z" fill="#9b9b9b" stroke="#555" stroke-width="0.6" stroke-linejoin="round"/>
<path d="M80.30,149.33 L80.80,149.31 L81.30,149.28 L81.80,149.26 L82.30,149.23 L82.80,149.20 L83.30,149.16 L83.80,149.12 L84.30,149.05 L84.80,148.96 L85.30,148.92 L85.80,148.87 L86.30,148.81 L86.80,148.67 L87.30,148.56 L87.80,148.51 L88.30,148.38 L88.80,148.33 L89.30,148.27 L89.80,148.18 L90.30,148.04 L90.80,147.87 L91.30,147.95 L91.80,147.94 L92.30,147.87 L92.80,147.81 L93.30,147.76 L93.80,147.82 L94.30,147.77 L94.80,147.88 L95.30,147.99 L95.80,147.93 L96.30,147.90 L96.80,147.90 L97.30,148.06 L97.80,148.13 L98.30,148.11 L98.80,148.19 L99.30,148.17 L99.80,148.18 L100.30,148.20 L100.80,148.28 L101.30,148.35 L101.80,148.20 L102.30,148.12 L102.80,148.06 L103.30,147.98 L103.80,147.87 L104.30,147.62 L104.80,147.48 L105.30,147.08 L105.80,146.63 L106.30,146.47 L106.80,146.25 L107.30,146.02 L107.80,145.35 L108.30,144.98 L108.80,144.89 L109.30,144.50 L109.80,144.55 L110.30,144.52 L110.80,144.53 L111.30,144.21 L111.80,143.93 L112.30,144.45 L112.80,144.45 L113.30,144.23 L113.80,143.84 L114.30,143.36 L114.80,143.03 L115.30,142.06 L115.80,141.73 L116.30,141.10 L116.80,139.28 L117.30,137.37 L117.80,135.35 L118.30,134.80 L118.80,132.87 L119.30,130.06 L119.80,128.42 L120.30,124.93 L120.80,122.32 L121.30,119.83 L121.80,119.63 L122.30,119.06 L122.80,113.50 L123.30,111.52 L123.80,110.65 L124.30,110.89 L124.80,110.83 L125.30,110.00 L125.80,112.63 L126.30,111.01 L126.80,111.50 L127.30,115.81 L127.80,119.30 L128.30,122.14 L128.80,122.02 L129.30,124.92 L129.80,128.28 L130.30,130.33 L130.80,133.68 L131.30,135.96 L131.80,138.04 L132.30,139.14 L132.80,140.62 L133.30,142.94 L133.80,144.16 L134.30,145.14 L134.80,145.88 L135.30,146.60 L135.80,147.25 L136.30,147.65 L136.80,148.16 L137.30,148.46 L137.80,148.63 L138.30,148.78 L138.80,148.91 L139.30,149.05 L139.80,149.12 L140.30,149.17 L140.80,149.22 L141.30,149.24 L141.80,149.27" fill="none" stroke="#141414" stroke-width="1.25" stroke-linejoin="round"/>
<line x1="79.80" y1="149.50" x2="142.60" y2="149.50" stroke="#333" stroke-width="0.9" />
<rect x="79.80" y="149.70" width="62.80" height="44.30" fill="#fff" stroke="#c4c4c4" stroke-width="0.9"/>
<path d="M80.30,193.69 L80.80,193.68 L81.30,193.68 L81.80,193.67 L82.30,193.67 L82.80,193.66 L83.30,193.64 L83.80,193.63 L84.30,193.62 L84.80,193.60 L85.30,193.58 L85.80,193.56 L86.30,193.53 L86.80,193.50 L87.30,193.46 L87.80,193.44 L88.30,193.41 L88.80,193.35 L89.30,193.30 L89.80,193.25 L90.30,193.22 L90.80,193.18 L91.30,193.13 L91.80,193.11 L92.30,193.04 L92.80,192.97 L93.30,192.97 L93.80,192.97 L94.30,192.98 L94.80,192.90 L95.30,192.90 L95.80,192.92 L96.30,192.91 L96.80,192.95 L97.30,192.98 L97.80,193.00 L98.30,192.97 L98.80,192.95 L99.30,193.03 L99.80,193.06 L100.30,193.07 L100.80,193.07 L101.30,193.08 L101.80,193.09 L102.30,193.05 L102.80,193.07 L103.30,193.04 L103.80,192.91 L104.30,192.73 L104.80,192.49 L105.30,192.31 L105.80,191.96 L106.30,191.51 L106.80,191.11 L107.30,190.48 L107.80,189.94 L108.30,189.44 L108.80,189.38 L109.30,189.30 L109.80,188.80 L110.30,188.81 L110.80,188.88 L111.30,189.10 L111.80,189.19 L112.30,189.14 L112.80,189.23 L113.30,188.62 L113.80,188.02 L114.30,187.64 L114.80,187.03 L115.30,186.09 L115.80,183.98 L116.30,182.40 L116.80,180.58 L117.30,178.04 L117.80,176.43 L118.30,174.12 L118.80,171.81 L119.30,167.32 L119.80,163.85 L120.30,163.91 L120.80,161.71 L121.30,159.76 L121.80,156.92 L122.30,155.46 L122.80,154.81 L123.30,153.40 L123.80,157.42 L124.30,159.51 L124.80,159.61 L125.30,160.40 L125.80,162.53 L126.30,167.52 L126.80,169.70 L127.30,172.28 L127.80,175.33 L128.30,177.08 L128.80,179.46 L129.30,181.64 L129.80,184.48 L130.30,186.30 L130.80,187.17 L131.30,188.51 L131.80,189.60 L132.30,190.62 L132.80,191.32 L133.30,191.88 L133.80,192.36 L134.30,192.60 L134.80,192.85 L135.30,193.09 L135.80,193.25 L136.30,193.36 L136.80,193.41 L137.30,193.48 L137.80,193.52 L138.30,193.55 L138.80,193.58 L139.30,193.60 L139.80,193.62 L140.30,193.62 L140.80,193.63 L141.30,193.64 L141.80,193.65 L141.80,193.70 L80.30,193.70 Z" fill="#9b9b9b" stroke="#555" stroke-width="0.6" stroke-linejoin="round"/>
<path d="M80.30,193.63 L80.80,193.61 L81.30,193.60 L81.80,193.57 L82.30,193.54 L82.80,193.51 L83.30,193.46 L83.80,193.40 L84.30,193.34 L84.80,193.32 L85.30,193.26 L85.80,193.16 L86.30,193.08 L86.80,192.98 L87.30,192.92 L87.80,192.82 L88.30,192.77 L88.80,192.72 L89.30,192.51 L89.80,192.41 L90.30,192.38 L90.80,192.39 L91.30,192.33 L91.80,192.18 L92.30,192.19 L92.80,192.11 L93.30,192.09 L93.80,192.19 L94.30,192.24 L94.80,192.28 L95.30,192.14 L95.80,192.18 L96.30,192.32 L96.80,192.35 L97.30,192.41 L97.80,192.41 L98.30,192.46 L98.80,192.45 L99.30,192.45 L99.80,192.61 L100.30,192.63 L100.80,192.60 L101.30,192.53 L101.80,192.51 L102.30,192.54 L102.80,192.41 L103.30,192.36 L103.80,192.22 L104.30,191.95 L104.80,191.66 L105.30,191.38 L105.80,191.35 L106.30,191.00 L106.80,190.48 L107.30,190.16 L107.80,189.76 L108.30,189.59 L108.80,189.28 L109.30,189.28 L109.80,189.21 L110.30,188.63 L110.80,188.65 L111.30,188.85 L111.80,189.17 L112.30,189.13 L112.80,188.81 L113.30,188.94 L113.80,188.56 L114.30,188.31 L114.80,188.23 L115.30,187.90 L115.80,187.25 L116.30,185.58 L116.80,184.71 L117.30,184.02 L117.80,182.56 L118.30,181.19 L118.80,178.94 L119.30,177.22 L119.80,174.15 L120.30,171.68 L120.80,171.81 L121.30,169.42 L121.80,166.35 L122.30,162.35 L122.80,160.89 L123.30,160.94 L123.80,157.98 L124.30,158.47 L124.80,157.19 L125.30,154.58 L125.80,153.40 L126.30,154.55 L126.80,159.95 L127.30,160.19 L127.80,160.29 L128.30,162.70 L128.80,164.78 L129.30,168.33 L129.80,170.60 L130.30,174.45 L130.80,176.87 L131.30,177.59 L131.80,180.18 L132.30,182.71 L132.80,185.15 L133.30,186.47 L133.80,187.53 L134.30,188.94 L134.80,189.71 L135.30,190.61 L135.80,191.40 L136.30,191.98 L136.80,192.36 L137.30,192.55 L137.80,192.86 L138.30,193.09 L138.80,193.23 L139.30,193.34 L139.80,193.41 L140.30,193.47 L140.80,193.50 L141.30,193.54 L141.80,193.58" fill="none" stroke="#141414" stroke-width="1.25" stroke-linejoin="round"/>
<line x1="79.80" y1="193.50" x2="142.60" y2="193.50" stroke="#333" stroke-width="0.9" />
<rect x="146.50" y="18.00" width="62.80" height="43.50" fill="#fff" stroke="#c4c4c4" stroke-width="0.9"/>
<path d="M147.00,61.20 L147.50,61.20 L148.00,61.20 L148.50,61.20 L149.00,61.20 L149.50,61.20 L150.00,61.20 L150.50,61.20 L151.00,61.20 L151.50,61.20 L152.00,61.20 L152.50,61.20 L153.00,61.20 L153.50,61.20 L154.00,61.20 L154.50,61.20 L155.00,61.20 L155.50,61.20 L156.00,61.20 L156.50,61.20 L157.00,61.20 L157.50,61.20 L158.00,61.19 L158.50,61.19 L159.00,61.19 L159.50,61.19 L160.00,61.19 L160.50,61.19 L161.00,61.19 L161.50,61.19 L162.00,61.19 L162.50,61.18 L163.00,61.18 L163.50,61.18 L164.00,61.17 L164.50,61.17 L165.00,61.16 L165.50,61.16 L166.00,61.15 L166.50,61.14 L167.00,61.13 L167.50,61.11 L168.00,61.10 L168.50,61.07 L169.00,61.05 L169.50,61.02 L170.00,60.98 L170.50,60.94 L171.00,60.90 L171.50,60.86 L172.00,60.80 L172.50,60.73 L173.00,60.66 L173.50,60.59 L174.00,60.51 L174.50,60.43 L175.00,60.33 L175.50,60.23 L176.00,60.10 L176.50,59.99 L177.00,59.89 L177.50,59.74 L178.00,59.56 L178.50,59.33 L179.00,59.09 L179.50,58.76 L180.00,58.32 L180.50,57.89 L181.00,57.21 L181.50,56.31 L182.00,55.15 L182.50,53.84 L183.00,52.37 L183.50,50.26 L184.00,47.97 L184.50,45.32 L185.00,42.30 L185.50,39.22 L186.00,36.02 L186.50,33.46 L187.00,30.02 L187.50,26.43 L188.00,24.00 L188.50,22.03 L189.00,20.93 L189.50,20.40 L190.00,22.48 L190.50,25.18 L191.00,27.67 L191.50,31.59 L192.00,35.73 L192.50,39.84 L193.00,43.27 L193.50,46.37 L194.00,49.63 L194.50,52.22 L195.00,54.41 L195.50,56.17 L196.00,57.50 L196.50,58.50 L197.00,59.21 L197.50,59.78 L198.00,60.19 L198.50,60.45 L199.00,60.64 L199.50,60.76 L200.00,60.86 L200.50,60.93 L201.00,60.98 L201.50,61.02 L202.00,61.05 L202.50,61.07 L203.00,61.09 L203.50,61.11 L204.00,61.12 L204.50,61.13 L205.00,61.14 L205.50,61.15 L206.00,61.16 L206.50,61.16 L207.00,61.17 L207.50,61.17 L208.00,61.18 L208.50,61.18 L208.50,61.20 L147.00,61.20 Z" fill="#9b9b9b" stroke="#555" stroke-width="0.6" stroke-linejoin="round"/>
<path d="M147.00,60.29 L147.50,60.07 L148.00,59.77 L148.50,59.42 L149.00,58.95 L149.50,58.37 L150.00,57.65 L150.50,56.79 L151.00,55.82 L151.50,54.56 L152.00,53.07 L152.50,51.42 L153.00,49.56 L153.50,47.56 L154.00,45.24 L154.50,42.90 L155.00,40.32 L155.50,37.41 L156.00,34.80 L156.50,32.28 L157.00,30.00 L157.50,27.42 L158.00,24.99 L158.50,23.29 L159.00,21.53 L159.50,20.40 L160.00,20.70 L160.50,22.04 L161.00,23.48 L161.50,24.86 L162.00,27.26 L162.50,29.78 L163.00,32.20 L163.50,34.63 L164.00,37.00 L164.50,39.55 L165.00,41.80 L165.50,44.10 L166.00,46.35 L166.50,48.20 L167.00,49.98 L167.50,51.53 L168.00,53.04 L168.50,54.32 L169.00,55.34 L169.50,56.25 L170.00,56.99 L170.50,57.62 L171.00,58.15 L171.50,58.61 L172.00,59.02 L172.50,59.32 L173.00,59.59 L173.50,59.82 L174.00,60.02 L174.50,60.20 L175.00,60.34 L175.50,60.47 L176.00,60.58 L176.50,60.66 L177.00,60.75 L177.50,60.82 L178.00,60.88 L178.50,60.92 L179.00,60.96 L179.50,61.00 L180.00,61.03 L180.50,61.05 L181.00,61.07 L181.50,61.09 L182.00,61.11 L182.50,61.12 L183.00,61.13 L183.50,61.14 L184.00,61.15 L184.50,61.15 L185.00,61.16 L185.50,61.16 L186.00,61.17 L186.50,61.17 L187.00,61.17 L187.50,61.18 L188.00,61.18 L188.50,61.18 L189.00,61.18 L189.50,61.18 L190.00,61.19 L190.50,61.19 L191.00,61.19 L191.50,61.19 L192.00,61.19 L192.50,61.19 L193.00,61.19 L193.50,61.19 L194.00,61.19 L194.50,61.19 L195.00,61.20 L195.50,61.20 L196.00,61.20 L196.50,61.20 L197.00,61.20 L197.50,61.20 L198.00,61.20 L198.50,61.20 L199.00,61.20 L199.50,61.20 L200.00,61.20 L200.50,61.20 L201.00,61.20 L201.50,61.20 L202.00,61.20 L202.50,61.20 L203.00,61.20 L203.50,61.20 L204.00,61.20 L204.50,61.20 L205.00,61.20 L205.50,61.20 L206.00,61.20 L206.50,61.20 L207.00,61.20 L207.50,61.20 L208.00,61.20 L208.50,61.20" fill="none" stroke="#333" stroke-width="0.7" stroke-linejoin="round"/>
<line x1="146.50" y1="61.50" x2="209.30" y2="61.50" stroke="#333" stroke-width="0.9" />
<rect x="146.50" y="61.50" width="62.80" height="44.10" fill="#fff" stroke="#c4c4c4" stroke-width="0.9"/>
<path d="M147.00,105.30 L147.50,105.30 L148.00,105.30 L148.50,105.30 L149.00,105.30 L149.50,105.30 L150.00,105.30 L150.50,105.30 L151.00,105.30 L151.50,105.30 L152.00,105.30 L152.50,105.30 L153.00,105.30 L153.50,105.30 L154.00,105.30 L154.50,105.30 L155.00,105.30 L155.50,105.30 L156.00,105.30 L156.50,105.30 L157.00,105.30 L157.50,105.30 L158.00,105.29 L158.50,105.29 L159.00,105.29 L159.50,105.29 L160.00,105.29 L160.50,105.29 L161.00,105.29 L161.50,105.29 L162.00,105.29 L162.50,105.28 L163.00,105.28 L163.50,105.28 L164.00,105.27 L164.50,105.27 L165.00,105.26 L165.50,105.26 L166.00,105.25 L166.50,105.24 L167.00,105.23 L167.50,105.21 L168.00,105.20 L168.50,105.18 L169.00,105.15 L169.50,105.13 L170.00,105.09 L170.50,105.05 L171.00,105.01 L171.50,104.97 L172.00,104.91 L172.50,104.84 L173.00,104.78 L173.50,104.71 L174.00,104.63 L174.50,104.55 L175.00,104.46 L175.50,104.36 L176.00,104.23 L176.50,104.13 L177.00,104.03 L177.50,103.88 L178.00,103.71 L178.50,103.48 L179.00,103.25 L179.50,102.92 L180.00,102.50 L180.50,102.09 L181.00,101.42 L181.50,100.54 L182.00,99.41 L182.50,98.15 L183.00,96.71 L183.50,94.65 L184.00,92.43 L184.50,89.85 L185.00,86.91 L185.50,83.92 L186.00,80.86 L186.50,78.34 L187.00,74.90 L187.50,71.44 L188.00,69.15 L188.50,67.24 L189.00,66.12 L189.50,65.60 L190.00,67.66 L190.50,70.22 L191.00,72.65 L191.50,76.53 L192.00,80.57 L192.50,84.51 L193.00,87.82 L193.50,90.88 L194.00,94.06 L194.50,96.56 L195.00,98.70 L195.50,100.41 L196.00,101.70 L196.50,102.67 L197.00,103.36 L197.50,103.93 L198.00,104.32 L198.50,104.57 L199.00,104.75 L199.50,104.88 L200.00,104.97 L200.50,105.03 L201.00,105.08 L201.50,105.12 L202.00,105.15 L202.50,105.17 L203.00,105.19 L203.50,105.21 L204.00,105.22 L204.50,105.23 L205.00,105.24 L205.50,105.25 L206.00,105.26 L206.50,105.26 L207.00,105.27 L207.50,105.27 L208.00,105.28 L208.50,105.28 L208.50,105.30 L147.00,105.30 Z" fill="#9b9b9b" stroke="#555" stroke-width="0.6" stroke-linejoin="round"/>
<path d="M147.00,105.30 L147.50,105.30 L148.00,105.30 L148.50,105.30 L149.00,105.30 L149.50,105.29 L150.00,105.29 L150.50,105.29 L151.00,105.29 L151.50,105.29 L152.00,105.29 L152.50,105.29 L153.00,105.29 L153.50,105.29 L154.00,105.28 L154.50,105.28 L155.00,105.28 L155.50,105.27 L156.00,105.27 L156.50,105.26 L157.00,105.25 L157.50,105.25 L158.00,105.24 L158.50,105.22 L159.00,105.21 L159.50,105.19 L160.00,105.17 L160.50,105.15 L161.00,105.12 L161.50,105.09 L162.00,105.06 L162.50,105.02 L163.00,104.97 L163.50,104.93 L164.00,104.89 L164.50,104.82 L165.00,104.76 L165.50,104.70 L166.00,104.63 L166.50,104.57 L167.00,104.49 L167.50,104.42 L168.00,104.32 L168.50,104.21 L169.00,104.14 L169.50,104.05 L170.00,103.96 L170.50,103.84 L171.00,103.73 L171.50,103.66 L172.00,103.53 L172.50,103.43 L173.00,103.33 L173.50,103.19 L174.00,103.02 L174.50,102.83 L175.00,102.76 L175.50,102.65 L176.00,102.48 L176.50,102.32 L177.00,102.13 L177.50,102.00 L178.00,101.78 L178.50,101.63 L179.00,101.48 L179.50,101.20 L180.00,100.89 L180.50,100.50 L181.00,100.12 L181.50,99.52 L182.00,98.58 L182.50,97.60 L183.00,96.17 L183.50,94.50 L184.00,92.66 L184.50,90.72 L185.00,88.65 L185.50,85.49 L186.00,82.54 L186.50,79.89 L187.00,77.18 L187.50,74.76 L188.00,71.98 L188.50,70.18 L189.00,67.73 L189.50,65.60 L190.00,66.38 L190.50,68.53 L191.00,71.00 L191.50,72.96 L192.00,75.99 L192.50,79.79 L193.00,82.98 L193.50,86.67 L194.00,89.92 L194.50,92.75 L195.00,95.13 L195.50,97.22 L196.00,99.28 L196.50,100.77 L197.00,101.88 L197.50,102.75 L198.00,103.41 L198.50,103.92 L199.00,104.26 L199.50,104.54 L200.00,104.73 L200.50,104.85 L201.00,104.94 L201.50,105.01 L202.00,105.06 L202.50,105.10 L203.00,105.13 L203.50,105.16 L204.00,105.18 L204.50,105.19 L205.00,105.21 L205.50,105.22 L206.00,105.23 L206.50,105.24 L207.00,105.25 L207.50,105.26 L208.00,105.26 L208.50,105.27" fill="none" stroke="#141414" stroke-width="1.25" stroke-linejoin="round"/>
<line x1="146.50" y1="105.50" x2="209.30" y2="105.50" stroke="#333" stroke-width="0.9" />
<rect x="146.50" y="105.60" width="62.80" height="44.10" fill="#fff" stroke="#c4c4c4" stroke-width="0.9"/>
<path d="M147.00,149.40 L147.50,149.40 L148.00,149.40 L148.50,149.40 L149.00,149.40 L149.50,149.40 L150.00,149.40 L150.50,149.40 L151.00,149.40 L151.50,149.40 L152.00,149.40 L152.50,149.40 L153.00,149.40 L153.50,149.40 L154.00,149.40 L154.50,149.40 L155.00,149.40 L155.50,149.40 L156.00,149.40 L156.50,149.40 L157.00,149.40 L157.50,149.40 L158.00,149.39 L158.50,149.39 L159.00,149.39 L159.50,149.39 L160.00,149.39 L160.50,149.39 L161.00,149.39 L161.50,149.39 L162.00,149.39 L162.50,149.38 L163.00,149.38 L163.50,149.38 L164.00,149.37 L164.50,149.37 L165.00,149.36 L165.50,149.36 L166.00,149.35 L166.50,149.34 L167.00,149.33 L167.50,149.31 L168.00,149.30 L168.50,149.28 L169.00,149.25 L169.50,149.23 L170.00,149.19 L170.50,149.15 L171.00,149.12 L171.50,149.07 L172.00,149.01 L172.50,148.94 L173.00,148.88 L173.50,148.81 L174.00,148.73 L174.50,148.66 L175.00,148.56 L175.50,148.46 L176.00,148.34 L176.50,148.24 L177.00,148.14 L177.50,147.99 L178.00,147.82 L178.50,147.60 L179.00,147.36 L179.50,147.04 L180.00,146.63 L180.50,146.21 L181.00,145.54 L181.50,144.67 L182.00,143.56 L182.50,142.32 L183.00,140.88 L183.50,138.82 L184.00,136.64 L184.50,134.06 L185.00,131.14 L185.50,128.20 L186.00,125.19 L186.50,122.66 L187.00,119.17 L187.50,115.78 L188.00,113.57 L188.50,111.67 L189.00,110.52 L189.50,110.00 L190.00,112.08 L190.50,114.55 L191.00,116.98 L191.50,120.90 L192.00,124.90 L192.50,128.77 L193.00,132.02 L193.50,135.09 L194.00,138.26 L194.50,140.73 L195.00,142.85 L195.50,144.55 L196.00,145.83 L196.50,146.79 L197.00,147.48 L197.50,148.04 L198.00,148.43 L198.50,148.68 L199.00,148.86 L199.50,148.98 L200.00,149.07 L200.50,149.14 L201.00,149.19 L201.50,149.23 L202.00,149.25 L202.50,149.27 L203.00,149.29 L203.50,149.31 L204.00,149.32 L204.50,149.33 L205.00,149.34 L205.50,149.35 L206.00,149.36 L206.50,149.36 L207.00,149.37 L207.50,149.37 L208.00,149.38 L208.50,149.38 L208.50,149.40 L147.00,149.40 Z" fill="#9b9b9b" stroke="#555" stroke-width="0.6" stroke-linejoin="round"/>
<path d="M147.00,149.40 L147.50,149.40 L148.00,149.40 L148.50,149.39 L149.00,149.39 L149.50,149.39 L150.00,149.39 L150.50,149.39 L151.00,149.39 L151.50,149.39 L152.00,149.39 L152.50,149.39 L153.00,149.39 L153.50,149.38 L154.00,149.38 L154.50,149.38 L155.00,149.37 L155.50,149.37 L156.00,149.36 L156.50,149.36 L157.00,149.35 L157.50,149.34 L158.00,149.33 L158.50,149.32 L159.00,149.30 L159.50,149.28 L160.00,149.26 L160.50,149.24 L161.00,149.21 L161.50,149.18 L162.00,149.14 L162.50,149.11 L163.00,149.06 L163.50,149.01 L164.00,148.95 L164.50,148.89 L165.00,148.84 L165.50,148.77 L166.00,148.70 L166.50,148.63 L167.00,148.54 L167.50,148.45 L168.00,148.36 L168.50,148.30 L169.00,148.20 L169.50,148.07 L170.00,147.96 L170.50,147.86 L171.00,147.77 L171.50,147.67 L172.00,147.57 L172.50,147.46 L173.00,147.26 L173.50,147.12 L174.00,147.00 L174.50,146.89 L175.00,146.74 L175.50,146.52 L176.00,146.39 L176.50,146.19 L177.00,145.99 L177.50,145.87 L178.00,145.69 L178.50,145.47 L179.00,145.08 L179.50,144.87 L180.00,144.70 L180.50,144.33 L181.00,143.91 L181.50,143.28 L182.00,142.56 L182.50,141.58 L183.00,140.41 L183.50,139.44 L184.00,137.97 L184.50,136.10 L185.00,133.96 L185.50,131.81 L186.00,129.90 L186.50,127.25 L187.00,125.01 L187.50,122.63 L188.00,119.59 L188.50,116.99 L189.00,114.74 L189.50,113.85 L190.00,112.02 L190.50,110.00 L191.00,110.00 L191.50,110.00 L192.00,111.95 L192.50,114.51 L193.00,117.92 L193.50,121.43 L194.00,124.05 L194.50,127.68 L195.00,131.40 L195.50,134.80 L196.00,137.60 L196.50,139.88 L197.00,142.09 L197.50,143.74 L198.00,145.13 L198.50,146.28 L199.00,147.11 L199.50,147.71 L200.00,148.11 L200.50,148.45 L201.00,148.70 L201.50,148.86 L202.00,148.98 L202.50,149.06 L203.00,149.13 L203.50,149.17 L204.00,149.21 L204.50,149.24 L205.00,149.27 L205.50,149.28 L206.00,149.30 L206.50,149.31 L207.00,149.33 L207.50,149.34 L208.00,149.34 L208.50,149.35" fill="none" stroke="#141414" stroke-width="1.25" stroke-linejoin="round"/>
<line x1="146.50" y1="149.50" x2="209.30" y2="149.50" stroke="#333" stroke-width="0.9" />
<rect x="146.50" y="149.70" width="62.80" height="44.30" fill="#fff" stroke="#c4c4c4" stroke-width="0.9"/>
<path d="M147.00,193.70 L147.50,193.70 L148.00,193.70 L148.50,193.70 L149.00,193.70 L149.50,193.70 L150.00,193.70 L150.50,193.70 L151.00,193.70 L151.50,193.70 L152.00,193.70 L152.50,193.70 L153.00,193.70 L153.50,193.70 L154.00,193.70 L154.50,193.70 L155.00,193.70 L155.50,193.70 L156.00,193.70 L156.50,193.70 L157.00,193.70 L157.50,193.70 L158.00,193.69 L158.50,193.69 L159.00,193.69 L159.50,193.69 L160.00,193.69 L160.50,193.69 L161.00,193.69 L161.50,193.69 L162.00,193.69 L162.50,193.68 L163.00,193.68 L163.50,193.68 L164.00,193.67 L164.50,193.67 L165.00,193.66 L165.50,193.66 L166.00,193.65 L166.50,193.64 L167.00,193.63 L167.50,193.61 L168.00,193.60 L168.50,193.58 L169.00,193.55 L169.50,193.52 L170.00,193.49 L170.50,193.45 L171.00,193.41 L171.50,193.36 L172.00,193.30 L172.50,193.23 L173.00,193.17 L173.50,193.10 L174.00,193.02 L174.50,192.94 L175.00,192.84 L175.50,192.74 L176.00,192.61 L176.50,192.52 L177.00,192.41 L177.50,192.26 L178.00,192.08 L178.50,191.86 L179.00,191.62 L179.50,191.28 L180.00,190.87 L180.50,190.44 L181.00,189.75 L181.50,188.85 L182.00,187.73 L182.50,186.48 L183.00,184.98 L183.50,182.87 L184.00,180.65 L184.50,178.00 L185.00,175.01 L185.50,172.02 L186.00,168.99 L186.50,166.36 L187.00,162.70 L187.50,159.31 L188.00,157.10 L188.50,155.15 L189.00,153.93 L189.50,153.40 L190.00,155.55 L190.50,158.01 L191.00,160.52 L191.50,164.61 L192.00,168.68 L192.50,172.58 L193.00,175.89 L193.50,179.07 L194.00,182.31 L194.50,184.83 L195.00,187.01 L195.50,188.74 L196.00,190.04 L196.50,191.02 L197.00,191.73 L197.50,192.31 L198.00,192.71 L198.50,192.96 L199.00,193.14 L199.50,193.27 L200.00,193.37 L200.50,193.43 L201.00,193.48 L201.50,193.52 L202.00,193.55 L202.50,193.57 L203.00,193.59 L203.50,193.61 L204.00,193.62 L204.50,193.63 L205.00,193.64 L205.50,193.65 L206.00,193.66 L206.50,193.66 L207.00,193.67 L207.50,193.67 L208.00,193.68 L208.50,193.68 L208.50,193.70 L147.00,193.70 Z" fill="#9b9b9b" stroke="#555" stroke-width="0.6" stroke-linejoin="round"/>
<path d="M147.00,193.70 L147.50,193.70 L148.00,193.69 L148.50,193.69 L149.00,193.69 L149.50,193.69 L150.00,193.69 L150.50,193.69 L151.00,193.69 L151.50,193.69 L152.00,193.69 L152.50,193.69 L153.00,193.68 L153.50,193.68 L154.00,193.68 L154.50,193.68 L155.00,193.67 L155.50,193.67 L156.00,193.66 L156.50,193.66 L157.00,193.65 L157.50,193.64 L158.00,193.63 L158.50,193.61 L159.00,193.60 L159.50,193.58 L160.00,193.55 L160.50,193.52 L161.00,193.49 L161.50,193.46 L162.00,193.43 L162.50,193.39 L163.00,193.33 L163.50,193.28 L164.00,193.22 L164.50,193.16 L165.00,193.10 L165.50,193.03 L166.00,192.96 L166.50,192.85 L167.00,192.78 L167.50,192.71 L168.00,192.62 L168.50,192.51 L169.00,192.39 L169.50,192.28 L170.00,192.17 L170.50,192.06 L171.00,192.00 L171.50,191.87 L172.00,191.72 L172.50,191.56 L173.00,191.43 L173.50,191.35 L174.00,191.16 L174.50,191.00 L175.00,190.82 L175.50,190.62 L176.00,190.45 L176.50,190.27 L177.00,190.18 L177.50,189.94 L178.00,189.62 L178.50,189.40 L179.00,189.14 L179.50,189.01 L180.00,188.68 L180.50,188.34 L181.00,187.91 L181.50,187.18 L182.00,186.52 L182.50,185.76 L183.00,184.86 L183.50,183.52 L184.00,181.78 L184.50,180.31 L185.00,178.43 L185.50,176.43 L186.00,174.35 L186.50,171.96 L187.00,169.45 L187.50,166.12 L188.00,163.94 L188.50,162.18 L189.00,159.66 L189.50,157.25 L190.00,154.62 L190.50,153.40 L191.00,153.40 L191.50,153.40 L192.00,153.40 L192.50,154.56 L193.00,156.90 L193.50,159.76 L194.00,163.96 L194.50,168.47 L195.00,171.88 L195.50,175.60 L196.00,178.90 L196.50,181.84 L197.00,184.45 L197.50,186.64 L198.00,188.54 L198.50,189.80 L199.00,190.77 L199.50,191.57 L200.00,192.16 L200.50,192.59 L201.00,192.87 L201.50,193.08 L202.00,193.22 L202.50,193.31 L203.00,193.39 L203.50,193.45 L204.00,193.50 L204.50,193.53 L205.00,193.55 L205.50,193.57 L206.00,193.59 L206.50,193.61 L207.00,193.62 L207.50,193.63 L208.00,193.64 L208.50,193.65" fill="none" stroke="#141414" stroke-width="1.25" stroke-linejoin="round"/>
<line x1="146.50" y1="193.50" x2="209.30" y2="193.50" stroke="#333" stroke-width="0.9" />
<rect x="212.20" y="18.00" width="62.80" height="43.50" fill="#fff" stroke="#c4c4c4" stroke-width="0.9"/>
<path d="M212.70,61.20 L213.20,61.20 L213.70,61.20 L214.20,61.20 L214.70,61.20 L215.20,61.20 L215.70,61.20 L216.20,61.20 L216.70,61.20 L217.20,61.20 L217.70,61.19 L218.20,61.19 L218.70,61.19 L219.20,61.19 L219.70,61.18 L220.20,61.18 L220.70,61.17 L221.20,61.17 L221.70,61.16 L222.20,61.15 L222.70,61.14 L223.20,61.12 L223.70,61.10 L224.20,61.08 L224.70,61.06 L225.20,61.03 L225.70,61.00 L226.20,60.96 L226.70,60.92 L227.20,60.88 L227.70,60.83 L228.20,60.77 L228.70,60.70 L229.20,60.63 L229.70,60.57 L230.20,60.49 L230.70,60.41 L231.20,60.33 L231.70,60.23 L232.20,60.13 L232.70,60.02 L233.20,59.95 L233.70,59.86 L234.20,59.73 L234.70,59.60 L235.20,59.47 L235.70,59.36 L236.20,59.19 L236.70,59.03 L237.20,58.85 L237.70,58.57 L238.20,58.26 L238.70,57.92 L239.20,57.61 L239.70,57.16 L240.20,56.52 L240.70,55.88 L241.20,55.07 L241.70,54.18 L242.20,53.15 L242.70,52.04 L243.20,50.80 L243.70,48.97 L244.20,47.24 L244.70,45.58 L245.20,43.79 L245.70,41.79 L246.20,39.31 L246.70,37.27 L247.20,34.76 L247.70,32.30 L248.20,30.65 L248.70,28.78 L249.20,26.89 L249.70,24.26 L250.20,22.74 L250.70,22.22 L251.20,21.10 L251.70,20.80 L252.20,20.40 L252.70,20.44 L253.20,20.50 L253.70,20.99 L254.20,23.25 L254.70,24.68 L255.20,25.93 L255.70,27.49 L256.20,29.52 L256.70,32.16 L257.20,34.19 L257.70,36.79 L258.20,39.20 L258.70,41.08 L259.20,43.18 L259.70,45.30 L260.20,47.64 L260.70,49.41 L261.20,50.89 L261.70,52.46 L262.20,53.76 L262.70,55.00 L263.20,56.06 L263.70,57.02 L264.20,57.81 L264.70,58.37 L265.20,58.94 L265.70,59.42 L266.20,59.81 L266.70,60.12 L267.20,60.35 L267.70,60.55 L268.20,60.70 L268.70,60.82 L269.20,60.92 L269.70,61.00 L270.20,61.05 L270.70,61.09 L271.20,61.12 L271.70,61.14 L272.20,61.16 L272.70,61.17 L273.20,61.18 L273.70,61.19 L274.20,61.19 L274.20,61.20 L212.70,61.20 Z" fill="#9b9b9b" stroke="#555" stroke-width="0.6" stroke-linejoin="round"/>
<path d="M212.70,60.71 L213.20,60.51 L213.70,60.24 L214.20,59.85 L214.70,59.35 L215.20,58.73 L215.70,57.92 L216.20,56.94 L216.70,55.72 L217.20,54.28 L217.70,52.52 L218.20,50.41 L218.70,48.25 L219.20,45.83 L219.70,43.16 L220.20,40.15 L220.70,37.04 L221.20,34.20 L221.70,31.11 L222.20,28.48 L222.70,26.19 L223.20,23.97 L223.70,22.08 L224.20,20.55 L224.70,20.40 L225.20,20.56 L225.70,20.85 L226.20,21.85 L226.70,23.11 L227.20,25.01 L227.70,27.03 L228.20,29.61 L228.70,32.46 L229.20,34.80 L229.70,37.32 L230.20,39.87 L230.70,42.48 L231.20,44.85 L231.70,46.88 L232.20,48.87 L232.70,50.53 L233.20,52.01 L233.70,53.37 L234.20,54.55 L234.70,55.56 L235.20,56.31 L235.70,56.99 L236.20,57.60 L236.70,58.10 L237.20,58.53 L237.70,58.89 L238.20,59.22 L238.70,59.48 L239.20,59.71 L239.70,59.93 L240.20,60.13 L240.70,60.29 L241.20,60.43 L241.70,60.55 L242.20,60.67 L242.70,60.76 L243.20,60.84 L243.70,60.91 L244.20,60.97 L244.70,61.01 L245.20,61.05 L245.70,61.09 L246.20,61.11 L246.70,61.13 L247.20,61.15 L247.70,61.16 L248.20,61.17 L248.70,61.18 L249.20,61.19 L249.70,61.19 L250.20,61.19 L250.70,61.19 L251.20,61.20 L251.70,61.20 L252.20,61.20 L252.70,61.20 L253.20,61.20 L253.70,61.20 L254.20,61.20 L254.70,61.20 L255.20,61.20 L255.70,61.20 L256.20,61.20 L256.70,61.20 L257.20,61.20 L257.70,61.20 L258.20,61.20 L258.70,61.20 L259.20,61.20 L259.70,61.20 L260.20,61.20 L260.70,61.20 L261.20,61.20 L261.70,61.20 L262.20,61.20 L262.70,61.20 L263.20,61.20 L263.70,61.20 L264.20,61.20 L264.70,61.20 L265.20,61.20 L265.70,61.20 L266.20,61.20 L266.70,61.20 L267.20,61.20 L267.70,61.20 L268.20,61.20 L268.70,61.20 L269.20,61.20 L269.70,61.20 L270.20,61.20 L270.70,61.20 L271.20,61.20 L271.70,61.20 L272.20,61.20 L272.70,61.20 L273.20,61.20 L273.70,61.20 L274.20,61.20" fill="none" stroke="#333" stroke-width="0.7" stroke-linejoin="round"/>
<line x1="212.20" y1="61.50" x2="275.00" y2="61.50" stroke="#333" stroke-width="0.9" />
<rect x="212.20" y="61.50" width="62.80" height="44.10" fill="#fff" stroke="#c4c4c4" stroke-width="0.9"/>
<path d="M212.70,105.30 L213.20,105.30 L213.70,105.30 L214.20,105.30 L214.70,105.30 L215.20,105.30 L215.70,105.30 L216.20,105.30 L216.70,105.30 L217.20,105.30 L217.70,105.29 L218.20,105.29 L218.70,105.29 L219.20,105.29 L219.70,105.28 L220.20,105.28 L220.70,105.27 L221.20,105.27 L221.70,105.26 L222.20,105.25 L222.70,105.24 L223.20,105.22 L223.70,105.21 L224.20,105.19 L224.70,105.16 L225.20,105.14 L225.70,105.11 L226.20,105.07 L226.70,105.03 L227.20,104.99 L227.70,104.94 L228.20,104.88 L228.70,104.81 L229.20,104.75 L229.70,104.69 L230.20,104.61 L230.70,104.53 L231.20,104.45 L231.70,104.36 L232.20,104.26 L232.70,104.15 L233.20,104.09 L233.70,103.99 L234.20,103.87 L234.70,103.74 L235.20,103.61 L235.70,103.51 L236.20,103.34 L236.70,103.19 L237.20,103.01 L237.70,102.73 L238.20,102.44 L238.70,102.12 L239.20,101.81 L239.70,101.36 L240.20,100.74 L240.70,100.13 L241.20,99.33 L241.70,98.47 L242.20,97.47 L242.70,96.40 L243.20,95.17 L243.70,93.38 L244.20,91.73 L244.70,90.13 L245.20,88.36 L245.70,86.39 L246.20,84.00 L246.70,82.02 L247.20,79.54 L247.70,77.19 L248.20,75.63 L248.70,73.76 L249.20,71.85 L249.70,69.31 L250.20,67.93 L250.70,67.40 L251.20,66.27 L251.70,66.00 L252.20,65.60 L252.70,65.61 L253.20,65.64 L253.70,66.23 L254.20,68.45 L254.70,69.73 L255.20,70.93 L255.70,72.48 L256.20,74.50 L256.70,77.05 L257.20,79.01 L257.70,81.58 L258.20,83.88 L258.70,85.68 L259.20,87.76 L259.70,89.86 L260.20,92.12 L260.70,93.81 L261.20,95.26 L261.70,96.79 L262.20,98.06 L262.70,99.26 L263.20,100.30 L263.70,101.23 L264.20,101.99 L264.70,102.54 L265.20,103.10 L265.70,103.57 L266.20,103.95 L266.70,104.24 L267.20,104.47 L267.70,104.67 L268.20,104.81 L268.70,104.93 L269.20,105.03 L269.70,105.10 L270.20,105.15 L270.70,105.19 L271.20,105.22 L271.70,105.24 L272.20,105.26 L272.70,105.27 L273.20,105.28 L273.70,105.29 L274.20,105.29 L274.20,105.30 L212.70,105.30 Z" fill="#9b9b9b" stroke="#555" stroke-width="0.6" stroke-linejoin="round"/>
<path d="M212.70,105.30 L213.20,105.30 L213.70,105.30 L214.20,105.29 L214.70,105.29 L215.20,105.29 L215.70,105.29 L216.20,105.28 L216.70,105.28 L217.20,105.28 L217.70,105.27 L218.20,105.26 L218.70,105.26 L219.20,105.25 L219.70,105.24 L220.20,105.22 L220.70,105.21 L221.20,105.19 L221.70,105.17 L222.20,105.15 L222.70,105.12 L223.20,105.09 L223.70,105.05 L224.20,105.02 L224.70,104.97 L225.20,104.93 L225.70,104.89 L226.20,104.82 L226.70,104.76 L227.20,104.69 L227.70,104.63 L228.20,104.56 L228.70,104.48 L229.20,104.41 L229.70,104.31 L230.20,104.22 L230.70,104.12 L231.20,104.06 L231.70,103.98 L232.20,103.85 L232.70,103.76 L233.20,103.65 L233.70,103.55 L234.20,103.46 L234.70,103.36 L235.20,103.27 L235.70,103.07 L236.20,102.90 L236.70,102.78 L237.20,102.62 L237.70,102.41 L238.20,102.09 L238.70,101.80 L239.20,101.43 L239.70,100.95 L240.20,100.55 L240.70,100.01 L241.20,99.33 L241.70,98.37 L242.20,97.37 L242.70,96.54 L243.20,95.30 L243.70,94.00 L244.20,92.48 L244.70,90.76 L245.20,88.91 L245.70,86.77 L246.20,85.38 L246.70,83.51 L247.20,80.99 L247.70,78.63 L248.20,76.39 L248.70,74.99 L249.20,72.87 L249.70,71.28 L250.20,70.14 L250.70,67.99 L251.20,66.68 L251.70,65.92 L252.20,66.49 L252.70,66.52 L253.20,65.60 L253.70,66.28 L254.20,66.85 L254.70,68.02 L255.20,69.47 L255.70,71.17 L256.20,73.22 L256.70,74.00 L257.20,75.86 L257.70,78.43 L258.20,80.75 L258.70,82.91 L259.20,84.54 L259.70,86.74 L260.20,88.59 L260.70,90.33 L261.20,92.42 L261.70,94.10 L262.20,95.57 L262.70,96.69 L263.20,97.94 L263.70,99.22 L264.20,100.15 L264.70,101.03 L265.20,101.74 L265.70,102.37 L266.20,102.89 L266.70,103.33 L267.20,103.77 L267.70,104.08 L268.20,104.32 L268.70,104.52 L269.20,104.69 L269.70,104.84 L270.20,104.94 L270.70,105.03 L271.20,105.10 L271.70,105.15 L272.20,105.18 L272.70,105.22 L273.20,105.24 L273.70,105.26 L274.20,105.27" fill="none" stroke="#141414" stroke-width="1.25" stroke-linejoin="round"/>
<line x1="212.20" y1="105.50" x2="275.00" y2="105.50" stroke="#333" stroke-width="0.9" />
<rect x="212.20" y="105.60" width="62.80" height="44.10" fill="#fff" stroke="#c4c4c4" stroke-width="0.9"/>
<path d="M212.70,149.40 L213.20,149.40 L213.70,149.40 L214.20,149.40 L214.70,149.40 L215.20,149.40 L215.70,149.40 L216.20,149.40 L216.70,149.40 L217.20,149.40 L217.70,149.39 L218.20,149.39 L218.70,149.39 L219.20,149.39 L219.70,149.38 L220.20,149.38 L220.70,149.38 L221.20,149.37 L221.70,149.36 L222.20,149.35 L222.70,149.34 L223.20,149.32 L223.70,149.31 L224.20,149.29 L224.70,149.27 L225.20,149.24 L225.70,149.21 L226.20,149.17 L226.70,149.13 L227.20,149.09 L227.70,149.04 L228.20,148.99 L228.70,148.92 L229.20,148.85 L229.70,148.79 L230.20,148.71 L230.70,148.64 L231.20,148.56 L231.70,148.47 L232.20,148.37 L232.70,148.27 L233.20,148.20 L233.70,148.10 L234.20,147.98 L234.70,147.85 L235.20,147.73 L235.70,147.62 L236.20,147.46 L236.70,147.31 L237.20,147.13 L237.70,146.85 L238.20,146.56 L238.70,146.25 L239.20,145.95 L239.70,145.49 L240.20,144.88 L240.70,144.27 L241.20,143.48 L241.70,142.63 L242.20,141.65 L242.70,140.58 L243.20,139.34 L243.70,137.55 L244.20,135.96 L244.70,134.37 L245.20,132.61 L245.70,130.63 L246.20,128.28 L246.70,126.31 L247.20,123.82 L247.70,121.55 L248.20,120.03 L248.70,118.13 L249.20,116.17 L249.70,113.67 L250.20,112.40 L250.70,111.83 L251.20,110.68 L251.70,110.44 L252.20,110.03 L252.70,110.00 L253.20,110.02 L253.70,110.72 L254.20,112.92 L254.70,114.08 L255.20,115.27 L255.70,116.85 L256.20,118.89 L256.70,121.38 L257.20,123.33 L257.70,125.91 L258.20,128.14 L258.70,129.91 L259.20,132.01 L259.70,134.12 L260.20,136.35 L260.70,137.99 L261.20,139.44 L261.70,140.97 L262.20,142.21 L262.70,143.41 L263.20,144.45 L263.70,145.37 L264.20,146.11 L264.70,146.66 L265.20,147.22 L265.70,147.69 L266.20,148.06 L266.70,148.35 L267.20,148.58 L267.70,148.78 L268.20,148.92 L268.70,149.04 L269.20,149.13 L269.70,149.20 L270.20,149.25 L270.70,149.29 L271.20,149.32 L271.70,149.35 L272.20,149.36 L272.70,149.37 L273.20,149.38 L273.70,149.39 L274.20,149.39 L274.20,149.40 L212.70,149.40 Z" fill="#9b9b9b" stroke="#555" stroke-width="0.6" stroke-linejoin="round"/>
<path d="M212.70,149.40 L213.20,149.40 L213.70,149.40 L214.20,149.39 L214.70,149.39 L215.20,149.39 L215.70,149.39 L216.20,149.38 L216.70,149.38 L217.20,149.38 L217.70,149.37 L218.20,149.36 L218.70,149.36 L219.20,149.35 L219.70,149.33 L220.20,149.32 L220.70,149.31 L221.20,149.29 L221.70,149.27 L222.20,149.25 L222.70,149.22 L223.20,149.19 L223.70,149.15 L224.20,149.12 L224.70,149.08 L225.20,149.04 L225.70,148.97 L226.20,148.92 L226.70,148.86 L227.20,148.80 L227.70,148.73 L228.20,148.66 L228.70,148.58 L229.20,148.47 L229.70,148.38 L230.20,148.33 L230.70,148.23 L231.20,148.12 L231.70,148.00 L232.20,147.89 L232.70,147.78 L233.20,147.65 L233.70,147.57 L234.20,147.44 L234.70,147.26 L235.20,147.08 L235.70,146.92 L236.20,146.81 L236.70,146.58 L237.20,146.33 L237.70,146.09 L238.20,145.75 L238.70,145.43 L239.20,145.07 L239.70,144.78 L240.20,144.31 L240.70,143.61 L241.20,143.05 L241.70,142.41 L242.20,141.76 L242.70,140.88 L243.20,139.91 L243.70,138.95 L244.20,137.50 L244.70,136.28 L245.20,135.18 L245.70,133.91 L246.20,132.31 L246.70,130.17 L247.20,128.75 L247.70,127.11 L248.20,125.32 L248.70,123.90 L249.20,122.08 L249.70,120.37 L250.20,117.94 L250.70,116.56 L251.20,116.13 L251.70,114.59 L252.20,113.27 L252.70,111.74 L253.20,111.16 L253.70,110.65 L254.20,110.00 L254.70,110.91 L255.20,110.76 L255.70,110.49 L256.20,110.80 L256.70,112.13 L257.20,114.43 L257.70,115.41 L258.20,117.07 L258.70,118.98 L259.20,120.64 L259.70,122.87 L260.20,125.07 L260.70,127.83 L261.20,129.72 L261.70,131.25 L262.20,133.40 L262.70,135.37 L263.20,137.32 L263.70,138.85 L264.20,140.33 L264.70,141.71 L265.20,142.72 L265.70,143.84 L266.20,144.86 L266.70,145.69 L267.20,146.34 L267.70,146.85 L268.20,147.38 L268.70,147.79 L269.20,148.13 L269.70,148.41 L270.20,148.63 L270.70,148.80 L271.20,148.93 L271.70,149.05 L272.20,149.14 L272.70,149.21 L273.20,149.26 L273.70,149.29 L274.20,149.32" fill="none" stroke="#141414" stroke-width="1.25" stroke-linejoin="round"/>
<line x1="212.20" y1="149.50" x2="275.00" y2="149.50" stroke="#333" stroke-width="0.9" />
<rect x="212.20" y="149.70" width="62.80" height="44.30" fill="#fff" stroke="#c4c4c4" stroke-width="0.9"/>
<path d="M212.70,193.70 L213.20,193.70 L213.70,193.70 L214.20,193.70 L214.70,193.70 L215.20,193.70 L215.70,193.70 L216.20,193.70 L216.70,193.70 L217.20,193.70 L217.70,193.69 L218.20,193.69 L218.70,193.69 L219.20,193.69 L219.70,193.68 L220.20,193.68 L220.70,193.67 L221.20,193.67 L221.70,193.66 L222.20,193.65 L222.70,193.64 L223.20,193.62 L223.70,193.61 L224.20,193.59 L224.70,193.56 L225.20,193.53 L225.70,193.50 L226.20,193.46 L226.70,193.42 L227.20,193.38 L227.70,193.33 L228.20,193.28 L228.70,193.21 L229.20,193.14 L229.70,193.08 L230.20,193.00 L230.70,192.92 L231.20,192.84 L231.70,192.74 L232.20,192.64 L232.70,192.54 L233.20,192.48 L233.70,192.37 L234.20,192.24 L234.70,192.12 L235.20,191.99 L235.70,191.88 L236.20,191.71 L236.70,191.57 L237.20,191.38 L237.70,191.09 L238.20,190.80 L238.70,190.49 L239.20,190.17 L239.70,189.70 L240.20,189.08 L240.70,188.46 L241.20,187.65 L241.70,186.78 L242.20,185.79 L242.70,184.70 L243.20,183.40 L243.70,181.57 L244.20,179.98 L244.70,178.37 L245.20,176.54 L245.70,174.51 L246.20,172.12 L246.70,170.11 L247.20,167.54 L247.70,165.27 L248.20,163.74 L248.70,161.75 L249.20,159.68 L249.70,157.16 L250.20,155.96 L250.70,155.33 L251.20,154.13 L251.70,153.91 L252.20,153.47 L252.70,153.40 L253.20,153.43 L253.70,154.25 L254.20,156.49 L254.70,157.56 L255.20,158.78 L255.70,160.45 L256.20,162.56 L256.70,165.06 L257.20,167.07 L257.70,169.73 L258.20,171.95 L258.70,173.76 L259.20,175.93 L259.70,178.12 L260.20,180.37 L260.70,182.02 L261.20,183.52 L261.70,185.09 L262.20,186.36 L262.70,187.59 L263.20,188.64 L263.70,189.59 L264.20,190.33 L264.70,190.90 L265.20,191.48 L265.70,191.95 L266.20,192.33 L266.70,192.63 L267.20,192.86 L267.70,193.06 L268.20,193.21 L268.70,193.33 L269.20,193.43 L269.70,193.50 L270.20,193.55 L270.70,193.59 L271.20,193.62 L271.70,193.64 L272.20,193.66 L272.70,193.67 L273.20,193.68 L273.70,193.69 L274.20,193.69 L274.20,193.70 L212.70,193.70 Z" fill="#9b9b9b" stroke="#555" stroke-width="0.6" stroke-linejoin="round"/>
<path d="M212.70,193.70 L213.20,193.70 L213.70,193.70 L214.20,193.69 L214.70,193.69 L215.20,193.69 L215.70,193.69 L216.20,193.68 L216.70,193.68 L217.20,193.68 L217.70,193.67 L218.20,193.66 L218.70,193.66 L219.20,193.65 L219.70,193.63 L220.20,193.62 L220.70,193.61 L221.20,193.59 L221.70,193.57 L222.20,193.54 L222.70,193.52 L223.20,193.49 L223.70,193.46 L224.20,193.42 L224.70,193.37 L225.20,193.32 L225.70,193.27 L226.20,193.22 L226.70,193.16 L227.20,193.11 L227.70,193.03 L228.20,192.94 L228.70,192.87 L229.20,192.80 L229.70,192.74 L230.20,192.64 L230.70,192.54 L231.20,192.46 L231.70,192.36 L232.20,192.29 L232.70,192.22 L233.20,192.15 L233.70,192.06 L234.20,191.93 L234.70,191.90 L235.20,191.85 L235.70,191.79 L236.20,191.72 L236.70,191.64 L237.20,191.58 L237.70,191.46 L238.20,191.39 L238.70,191.34 L239.20,191.18 L239.70,190.97 L240.20,190.70 L240.70,190.46 L241.20,190.13 L241.70,189.61 L242.20,189.09 L242.70,188.31 L243.20,187.38 L243.70,186.29 L244.20,185.21 L244.70,184.15 L245.20,182.45 L245.70,180.72 L246.20,178.99 L246.70,177.22 L247.20,175.52 L247.70,173.52 L248.20,172.02 L248.70,169.79 L249.20,167.26 L249.70,165.63 L250.20,164.06 L250.70,162.71 L251.20,160.64 L251.70,159.44 L252.20,159.11 L252.70,158.12 L253.20,158.06 L253.70,157.75 L254.20,157.25 L254.70,155.71 L255.20,153.72 L255.70,153.82 L256.20,153.54 L256.70,153.40 L257.20,153.57 L257.70,153.92 L258.20,155.10 L258.70,155.70 L259.20,158.01 L259.70,160.69 L260.20,162.45 L260.70,164.43 L261.20,166.52 L261.70,169.66 L262.20,172.31 L262.70,174.65 L263.20,177.29 L263.70,179.32 L264.20,181.31 L264.70,183.15 L265.20,185.05 L265.70,186.72 L266.20,187.85 L266.70,188.95 L267.20,189.90 L267.70,190.71 L268.20,191.39 L268.70,191.91 L269.20,192.36 L269.70,192.67 L270.20,192.92 L270.70,193.13 L271.20,193.29 L271.70,193.41 L272.20,193.49 L272.70,193.55 L273.20,193.60 L273.70,193.63 L274.20,193.65" fill="none" stroke="#141414" stroke-width="1.25" stroke-linejoin="round"/>
<line x1="212.20" y1="193.50" x2="275.00" y2="193.50" stroke="#333" stroke-width="0.9" />
</g>
<line x1="14.50" y1="19.00" x2="14.50" y2="194.00" stroke="#aaa" stroke-width="0.8" stroke-dasharray="0.8 1.6"/>
<line x1="80.50" y1="19.00" x2="80.50" y2="194.00" stroke="#aaa" stroke-width="0.8" stroke-dasharray="0.8 1.6"/>
<line x1="147.50" y1="19.00" x2="147.50" y2="194.00" stroke="#aaa" stroke-width="0.8" stroke-dasharray="0.8 1.6"/>
<line x1="213.50" y1="19.00" x2="213.50" y2="194.00" stroke="#aaa" stroke-width="0.8" stroke-dasharray="0.8 1.6"/>
<line x1="16.40" y1="195.50" x2="77.20" y2="195.50" stroke="#bbb" stroke-width="0.8" stroke-dasharray="0.8 1.6"/>
<line x1="80.80" y1="195.50" x2="141.60" y2="195.50" stroke="#bbb" stroke-width="0.8" stroke-dasharray="0.8 1.6"/>
<line x1="147.50" y1="195.50" x2="208.30" y2="195.50" stroke="#bbb" stroke-width="0.8" stroke-dasharray="0.8 1.6"/>
<line x1="213.20" y1="195.50" x2="274.00" y2="195.50" stroke="#bbb" stroke-width="0.8" stroke-dasharray="0.8 1.6"/>
<line x1="11.50" y1="197.40" x2="11.50" y2="22.00" stroke="#1a1a1a" stroke-width="1.1" />
<path d="M11.9,18.3 L10.1,22.6 L13.7,22.6 Z" fill="#1a1a1a"/>
<line x1="11.40" y1="197.50" x2="75.40" y2="197.50" stroke="#1a1a1a" stroke-width="1.1" />
<path d="M77.40,197.00 L73.40,195.20 L73.40,198.80 Z" fill="#1a1a1a"/>
<line x1="81.00" y1="197.50" x2="141.40" y2="197.50" stroke="#1a1a1a" stroke-width="1.1" />
<path d="M143.40,197.40 L139.40,195.60 L139.40,199.20 Z" fill="#1a1a1a"/>
<line x1="146.80" y1="197.50" x2="207.50" y2="197.50" stroke="#1a1a1a" stroke-width="1.1" />
<path d="M209.50,197.00 L205.50,195.20 L205.50,198.80 Z" fill="#1a1a1a"/>
<line x1="212.50" y1="197.50" x2="273.20" y2="197.50" stroke="#1a1a1a" stroke-width="1.1" />
<path d="M275.20,197.00 L271.20,195.20 L271.20,198.80 Z" fill="#1a1a1a"/>
<text x="0.60" y="8.90" font-size="15.5" text-anchor="start" font-weight="bold" fill="#000" >a</text>
<text x="80.70" y="10.00" font-size="10.9" text-anchor="middle" font-weight="bold" fill="#000" >MLN</text>
<line x1="16.80" y1="14.50" x2="139.60" y2="14.50" stroke="#111" stroke-width="1.3" />
<text x="211.50" y="9.40" font-size="11.0" text-anchor="middle" font-weight="bold" fill="#000" >Spleen</text>
<line x1="149.00" y1="14.50" x2="272.00" y2="14.50" stroke="#111" stroke-width="1.3" />
<text transform="translate(8.70,105.30) rotate(-90)" font-size="10" text-anchor="middle" font-weight="bold" fill="#000">% of max</text>
<text x="77.90" y="26.70" font-size="8.1" text-anchor="end" font-weight="bold" fill="#000" style="stroke-width:0.12px">5151</text>
<text x="97.40" y="26.40" font-size="8.1" text-anchor="start" font-weight="bold" fill="#000" style="stroke-width:0.12px">11001</text>
<text x="168.30" y="26.00" font-size="8.1" text-anchor="start" font-weight="bold" fill="#000" style="stroke-width:0.12px">9617</text>
<text x="228.80" y="26.40" font-size="8.1" text-anchor="start" font-weight="bold" fill="#000" style="stroke-width:0.12px">8147</text>
<text x="78.40" y="70.90" font-size="8.1" text-anchor="end" font-weight="bold" fill="#000" style="stroke-width:0.12px">6233</text>
<text x="96.90" y="70.30" font-size="8.1" text-anchor="start" font-weight="bold" fill="#000" style="stroke-width:0.12px">11328</text>
<text x="163.20" y="69.50" font-size="8.1" text-anchor="start" font-weight="bold" fill="#000" style="stroke-width:0.12px">10928</text>
<text x="228.20" y="71.20" font-size="8.1" text-anchor="start" font-weight="bold" fill="#000" style="stroke-width:0.12px">9589</text>
<text x="78.00" y="115.10" font-size="8.1" text-anchor="end" font-weight="bold" fill="#000" style="stroke-width:0.12px">6841</text>
<text x="96.90" y="113.50" font-size="8.1" text-anchor="start" font-weight="bold" fill="#000" style="stroke-width:0.12px">15118</text>
<text x="163.20" y="113.50" font-size="8.1" text-anchor="start" font-weight="bold" fill="#000" style="stroke-width:0.12px">12042</text>
<text x="224.60" y="114.60" font-size="8.1" text-anchor="start" font-weight="bold" fill="#000" style="stroke-width:0.12px">10253</text>
<text x="78.00" y="158.90" font-size="8.1" text-anchor="end" font-weight="bold" fill="#000" style="stroke-width:0.12px">7382</text>
<text x="96.90" y="158.30" font-size="8.1" text-anchor="start" font-weight="bold" fill="#000" style="stroke-width:0.12px">17382</text>
<text x="163.20" y="158.30" font-size="8.1" text-anchor="start" font-weight="bold" fill="#000" style="stroke-width:0.12px">12490</text>
<text x="224.60" y="159.20" font-size="8.1" text-anchor="start" font-weight="bold" fill="#000" style="stroke-width:0.12px">14064</text>
<text x="46.00" y="208.90" font-size="10.7" text-anchor="middle" font-weight="bold" fill="#000" >CD80</text>
<text x="113.80" y="209.90" font-size="10.7" text-anchor="middle" font-weight="bold" fill="#000" >CD86</text>
<text x="180.30" y="209.50" font-size="10.7" text-anchor="middle" font-weight="bold" fill="#000" >CD80</text>
<text x="245.70" y="209.50" font-size="10.7" text-anchor="middle" font-weight="bold" fill="#000" >CD86</text>
<text x="279.20" y="42.80" font-size="10.4" text-anchor="start" font-weight="bold" fill="#000" >PBS</text>
<text x="279.20" y="79.30" font-size="10.4" text-anchor="start" font-weight="bold" fill="#000" >HMGB1</text>
<text x="279.20" y="90.20" font-size="10.4" text-anchor="start" font-weight="bold" fill="#000" >1 µg/ml</text>
<text x="279.20" y="123.20" font-size="10.4" text-anchor="start" font-weight="bold" fill="#000" >HMGB1</text>
<text x="279.20" y="134.20" font-size="10.4" text-anchor="start" font-weight="bold" fill="#000" >5 µg/ml</text>
<text x="279.20" y="169.10" font-size="10.4" text-anchor="start" font-weight="bold" fill="#000" >HMGB1</text>
<text x="279.20" y="180.10" font-size="10.4" text-anchor="start" font-weight="bold" fill="#000" >10<tspan dx="-2.2"> µg/ml</tspan></text>
<text x="335.00" y="20.00" font-size="16" text-anchor="start" font-weight="bold" fill="#000" >b</text>
<text x="444.00" y="18.20" font-size="10.5" text-anchor="middle" font-weight="bold" fill="#000" >MLN</text>
<line x1="372.80" y1="23.50" x2="511.00" y2="23.50" stroke="#222" stroke-width="1.2" />
<text x="614.20" y="18.30" font-size="10.7" text-anchor="middle" font-weight="bold" fill="#000" >Spleen</text>
<line x1="541.00" y1="23.50" x2="679.80" y2="23.50" stroke="#222" stroke-width="1.2" />
<text x="401.40" y="34.40" font-size="10.6" text-anchor="middle" font-weight="bold" fill="#000" >CD80</text>
<text x="485.70" y="34.40" font-size="10.6" text-anchor="middle" font-weight="bold" fill="#000" >CD86</text>
<text x="570.00" y="34.20" font-size="10.6" text-anchor="middle" font-weight="bold" fill="#000" >CD80</text>
<text x="654.40" y="34.00" font-size="10.6" text-anchor="middle" font-weight="bold" fill="#000" >CD86</text>
<text transform="translate(344.40,93.80) rotate(-90)" font-size="10.3" text-anchor="middle" font-weight="bold" fill="#000">MFI</text>
<line x1="379.50" y1="86.10" x2="379.50" y2="80.20" stroke="#6e6e6e" stroke-width="0.9" />
<line x1="377.50" y1="80.50" x2="381.30" y2="80.50" stroke="#6e6e6e" stroke-width="0.9" />
<rect x="376.20" y="86.10" width="6.40" height="84.30" fill="#1c1c1c" />
<line x1="393.50" y1="78.31" x2="393.50" y2="67.00" stroke="#6e6e6e" stroke-width="0.9" />
<line x1="392.00" y1="67.50" x2="395.80" y2="67.50" stroke="#6e6e6e" stroke-width="0.9" />
<rect x="390.70" y="78.31" width="6.40" height="92.09" fill="#1c1c1c" />
<line x1="408.50" y1="75.72" x2="408.50" y2="69.60" stroke="#6e6e6e" stroke-width="0.9" />
<line x1="406.40" y1="69.50" x2="410.20" y2="69.50" stroke="#6e6e6e" stroke-width="0.9" />
<rect x="405.10" y="75.72" width="6.40" height="94.68" fill="#1c1c1c" />
<line x1="423.50" y1="67.29" x2="423.50" y2="63.00" stroke="#6e6e6e" stroke-width="0.9" />
<line x1="421.10" y1="63.50" x2="424.90" y2="63.50" stroke="#6e6e6e" stroke-width="0.9" />
<rect x="419.80" y="67.29" width="6.40" height="103.11" fill="#1c1c1c" />
<line x1="372.50" y1="40.00" x2="372.50" y2="170.90" stroke="#8f8f8f" stroke-width="1.25" />
<line x1="370.60" y1="170.50" x2="429.80" y2="170.50" stroke="#8f8f8f" stroke-width="1.25" />
<line x1="369.40" y1="144.50" x2="371.90" y2="144.50" stroke="#5a5a5a" stroke-width="1.25" />
<line x1="369.40" y1="118.50" x2="371.90" y2="118.50" stroke="#5a5a5a" stroke-width="1.25" />
<line x1="369.40" y1="92.50" x2="371.90" y2="92.50" stroke="#5a5a5a" stroke-width="1.25" />
<line x1="369.40" y1="66.50" x2="371.90" y2="66.50" stroke="#5a5a5a" stroke-width="1.25" />
<line x1="369.40" y1="40.50" x2="371.90" y2="40.50" stroke="#5a5a5a" stroke-width="1.25" />
<line x1="372.50" y1="170.40" x2="372.50" y2="172.60" stroke="#8f8f8f" stroke-width="1.375" />
<line x1="386.50" y1="170.40" x2="386.50" y2="172.60" stroke="#8f8f8f" stroke-width="1.375" />
<line x1="400.50" y1="170.40" x2="400.50" y2="172.60" stroke="#8f8f8f" stroke-width="1.375" />
<line x1="415.50" y1="170.40" x2="415.50" y2="172.60" stroke="#8f8f8f" stroke-width="1.375" />
<line x1="429.50" y1="170.40" x2="429.50" y2="172.60" stroke="#8f8f8f" stroke-width="1.375" />
<text x="365.30" y="174.03" font-size="9.3" text-anchor="end" font-weight="bold" fill="#000" >0</text>
<text x="369.10" y="148.09" font-size="9.3" text-anchor="end" font-weight="bold" fill="#000" >2000</text>
<text x="369.10" y="122.15" font-size="9.3" text-anchor="end" font-weight="bold" fill="#000" >4000</text>
<text x="369.10" y="96.11" font-size="9.3" text-anchor="end" font-weight="bold" fill="#000" >6000</text>
<text x="369.10" y="70.17" font-size="9.3" text-anchor="end" font-weight="bold" fill="#000" >8000</text>
<text x="369.10" y="44.13" font-size="9.3" text-anchor="end" font-weight="bold" fill="#000" >10000</text>
<line x1="378.20" y1="58.50" x2="421.20" y2="58.50" stroke="#1f1f1f" stroke-width="1.6" />
<text x="397.71" y="59.99" font-size="11.5" font-weight="bold" fill="#000" style="stroke-width:0.25px">*</text>
<text x="378.60" y="182.30" font-size="9.0" text-anchor="middle" font-weight="bold" fill="#000" >0</text>
<text x="392.90" y="182.30" font-size="9.0" text-anchor="middle" font-weight="bold" fill="#000" >1</text>
<text x="407.30" y="182.30" font-size="9.0" text-anchor="middle" font-weight="bold" fill="#000" >5</text>
<text x="422.50" y="182.30" font-size="9.0" text-anchor="middle" font-weight="bold" fill="#000" >10</text>
<text x="364.0" y="196.0" font-size="9.6" font-weight="bold" fill="#000" textLength="148.6" lengthAdjust="spacingAndGlyphs">Concentration of HMGB1 (µg/ml)</text>
<line x1="465.50" y1="99.07" x2="465.50" y2="96.70" stroke="#6e6e6e" stroke-width="0.9" />
<line x1="463.45" y1="96.50" x2="467.25" y2="96.50" stroke="#6e6e6e" stroke-width="0.9" />
<rect x="462.10" y="99.07" width="6.50" height="71.64" fill="#1c1c1c" />
<line x1="479.50" y1="92.58" x2="479.50" y2="90.10" stroke="#6e6e6e" stroke-width="0.9" />
<line x1="478.05" y1="90.50" x2="481.85" y2="90.50" stroke="#6e6e6e" stroke-width="0.9" />
<rect x="476.70" y="92.58" width="6.50" height="78.12" fill="#1c1c1c" />
<line x1="494.50" y1="86.10" x2="494.50" y2="78.60" stroke="#6e6e6e" stroke-width="0.9" />
<line x1="492.35" y1="78.50" x2="496.15" y2="78.50" stroke="#6e6e6e" stroke-width="0.9" />
<rect x="491.00" y="86.10" width="6.50" height="84.61" fill="#1c1c1c" />
<line x1="508.50" y1="64.69" x2="508.50" y2="60.40" stroke="#6e6e6e" stroke-width="0.9" />
<line x1="507.05" y1="60.50" x2="510.85" y2="60.50" stroke="#6e6e6e" stroke-width="0.9" />
<rect x="505.70" y="64.69" width="6.50" height="106.01" fill="#1c1c1c" />
<line x1="458.50" y1="40.00" x2="458.50" y2="171.20" stroke="#8f8f8f" stroke-width="1.25" />
<line x1="456.70" y1="170.50" x2="516.70" y2="170.50" stroke="#8f8f8f" stroke-width="1.25" />
<line x1="455.50" y1="137.50" x2="458.00" y2="137.50" stroke="#5a5a5a" stroke-width="1.25" />
<line x1="455.50" y1="105.50" x2="458.00" y2="105.50" stroke="#5a5a5a" stroke-width="1.25" />
<line x1="455.50" y1="73.50" x2="458.00" y2="73.50" stroke="#5a5a5a" stroke-width="1.25" />
<line x1="455.50" y1="40.50" x2="458.00" y2="40.50" stroke="#5a5a5a" stroke-width="1.25" />
<line x1="458.50" y1="170.70" x2="458.50" y2="172.90" stroke="#8f8f8f" stroke-width="1.375" />
<line x1="472.50" y1="170.70" x2="472.50" y2="172.90" stroke="#8f8f8f" stroke-width="1.375" />
<line x1="487.50" y1="170.70" x2="487.50" y2="172.90" stroke="#8f8f8f" stroke-width="1.375" />
<line x1="501.50" y1="170.70" x2="501.50" y2="172.90" stroke="#8f8f8f" stroke-width="1.375" />
<line x1="516.50" y1="170.70" x2="516.50" y2="172.90" stroke="#8f8f8f" stroke-width="1.375" />
<text x="451.80" y="174.63" font-size="9.3" text-anchor="end" font-weight="bold" fill="#000" >0</text>
<text x="454.90" y="141.60" font-size="9.3" text-anchor="end" font-weight="bold" fill="#000" >5000</text>
<text x="454.90" y="109.18" font-size="9.3" text-anchor="end" font-weight="bold" fill="#000" >10000</text>
<text x="454.90" y="76.65" font-size="9.3" text-anchor="end" font-weight="bold" fill="#000" >15000</text>
<text x="454.90" y="44.33" font-size="9.3" text-anchor="end" font-weight="bold" fill="#000" >20000</text>
<line x1="465.40" y1="55.50" x2="508.80" y2="55.50" stroke="#1f1f1f" stroke-width="1.6" />
<text x="482.71" y="57.29" font-size="11.5" font-weight="bold" fill="#000" style="stroke-width:0.25px">*</text>
<text x="487.31" y="57.29" font-size="11.5" font-weight="bold" fill="#000" style="stroke-width:0.25px">*</text>
<text x="464.80" y="182.50" font-size="9.0" text-anchor="middle" font-weight="bold" fill="#000" >0</text>
<text x="479.10" y="182.50" font-size="9.0" text-anchor="middle" font-weight="bold" fill="#000" >1</text>
<text x="493.40" y="182.50" font-size="9.0" text-anchor="middle" font-weight="bold" fill="#000" >5</text>
<text x="509.00" y="182.50" font-size="9.0" text-anchor="middle" font-weight="bold" fill="#000" >10</text>
<clipPath id="clip12"><rect x="514.9" y="40" width="30" height="20"/></clipPath>
<line x1="548.50" y1="97.22" x2="548.50" y2="93.30" stroke="#6e6e6e" stroke-width="0.9" />
<line x1="546.20" y1="93.50" x2="550.00" y2="93.50" stroke="#6e6e6e" stroke-width="0.9" />
<rect x="544.90" y="97.22" width="6.40" height="73.18" fill="#1c1c1c" />
<line x1="562.50" y1="90.20" x2="562.50" y2="89.30" stroke="#6e6e6e" stroke-width="0.9" />
<line x1="560.90" y1="89.50" x2="564.70" y2="89.50" stroke="#6e6e6e" stroke-width="0.9" />
<rect x="559.60" y="90.20" width="6.40" height="80.20" fill="#1c1c1c" />
<line x1="577.50" y1="83.18" x2="577.50" y2="75.70" stroke="#6e6e6e" stroke-width="0.9" />
<line x1="575.50" y1="75.50" x2="579.30" y2="75.50" stroke="#6e6e6e" stroke-width="0.9" />
<rect x="574.20" y="83.18" width="6.40" height="87.22" fill="#1c1c1c" />
<line x1="592.50" y1="70.65" x2="592.50" y2="62.30" stroke="#6e6e6e" stroke-width="0.9" />
<line x1="590.20" y1="62.50" x2="594.00" y2="62.50" stroke="#6e6e6e" stroke-width="0.9" />
<rect x="588.90" y="70.65" width="6.40" height="99.75" fill="#1c1c1c" />
<line x1="541.50" y1="40.30" x2="541.50" y2="170.90" stroke="#8f8f8f" stroke-width="1.25" />
<line x1="539.50" y1="170.50" x2="598.80" y2="170.50" stroke="#8f8f8f" stroke-width="1.25" />
<line x1="538.30" y1="130.50" x2="540.80" y2="130.50" stroke="#5a5a5a" stroke-width="1.25" />
<line x1="538.30" y1="90.50" x2="540.80" y2="90.50" stroke="#5a5a5a" stroke-width="1.25" />
<line x1="538.30" y1="50.50" x2="540.80" y2="50.50" stroke="#5a5a5a" stroke-width="1.25" />
<line x1="541.50" y1="170.40" x2="541.50" y2="172.60" stroke="#8f8f8f" stroke-width="1.375" />
<line x1="555.50" y1="170.40" x2="555.50" y2="172.60" stroke="#8f8f8f" stroke-width="1.375" />
<line x1="569.50" y1="170.40" x2="569.50" y2="172.60" stroke="#8f8f8f" stroke-width="1.375" />
<line x1="584.50" y1="170.40" x2="584.50" y2="172.60" stroke="#8f8f8f" stroke-width="1.375" />
<line x1="598.50" y1="170.40" x2="598.50" y2="172.60" stroke="#8f8f8f" stroke-width="1.375" />
<text x="534.30" y="174.03" font-size="9.3" text-anchor="end" font-weight="bold" fill="#000" >0</text>
<text x="538.20" y="133.93" font-size="9.3" text-anchor="end" font-weight="bold" fill="#000" >4000</text>
<text x="538.20" y="93.83" font-size="9.3" text-anchor="end" font-weight="bold" fill="#000" >8000</text>
<text x="538.5" y="53.59" font-size="9.2" font-weight="bold" fill="#000" text-anchor="end" clip-path="url(#clip12)" style="stroke-width:0.2px">1<tspan dx="1.1">2000</tspan></text>
<line x1="547.10" y1="56.50" x2="590.40" y2="56.50" stroke="#1f1f1f" stroke-width="1.6" />
<text x="566.61" y="58.49" font-size="11.5" font-weight="bold" fill="#000" style="stroke-width:0.25px">*</text>
<text x="547.60" y="182.20" font-size="9.0" text-anchor="middle" font-weight="bold" fill="#000" >0</text>
<text x="561.90" y="182.20" font-size="9.0" text-anchor="middle" font-weight="bold" fill="#000" >1</text>
<text x="576.50" y="182.20" font-size="9.0" text-anchor="middle" font-weight="bold" fill="#000" >5</text>
<text x="591.80" y="182.20" font-size="9.0" text-anchor="middle" font-weight="bold" fill="#000" >10</text>
<text x="533.3" y="195.4" font-size="9.6" font-weight="bold" fill="#000" textLength="148.4" lengthAdjust="spacingAndGlyphs">Concentration of HMGB1 (µg/ml)</text>
<line x1="634.50" y1="107.57" x2="634.50" y2="102.50" stroke="#6e6e6e" stroke-width="0.9" />
<line x1="632.15" y1="102.50" x2="635.95" y2="102.50" stroke="#6e6e6e" stroke-width="0.9" />
<rect x="630.80" y="107.57" width="6.50" height="62.83" fill="#1c1c1c" />
<line x1="648.50" y1="107.57" x2="648.50" y2="97.20" stroke="#6e6e6e" stroke-width="0.9" />
<line x1="646.75" y1="97.50" x2="650.55" y2="97.50" stroke="#6e6e6e" stroke-width="0.9" />
<rect x="645.40" y="107.57" width="6.50" height="62.83" fill="#1c1c1c" />
<line x1="663.50" y1="96.46" x2="663.50" y2="84.60" stroke="#6e6e6e" stroke-width="0.9" />
<line x1="661.35" y1="84.50" x2="665.15" y2="84.50" stroke="#6e6e6e" stroke-width="0.9" />
<rect x="660.00" y="96.46" width="6.50" height="73.94" fill="#1c1c1c" />
<line x1="677.50" y1="69.25" x2="677.50" y2="57.50" stroke="#6e6e6e" stroke-width="0.9" />
<line x1="676.05" y1="57.50" x2="679.85" y2="57.50" stroke="#6e6e6e" stroke-width="0.9" />
<rect x="674.70" y="69.25" width="6.50" height="101.15" fill="#1c1c1c" />
<line x1="627.50" y1="40.00" x2="627.50" y2="170.90" stroke="#8f8f8f" stroke-width="1.25" />
<line x1="625.40" y1="170.50" x2="685.50" y2="170.50" stroke="#8f8f8f" stroke-width="1.25" />
<line x1="624.20" y1="139.50" x2="626.70" y2="139.50" stroke="#5a5a5a" stroke-width="1.25" />
<line x1="624.20" y1="109.50" x2="626.70" y2="109.50" stroke="#5a5a5a" stroke-width="1.25" />
<line x1="624.20" y1="78.50" x2="626.70" y2="78.50" stroke="#5a5a5a" stroke-width="1.25" />
<line x1="624.20" y1="47.50" x2="626.70" y2="47.50" stroke="#5a5a5a" stroke-width="1.25" />
<line x1="627.50" y1="170.40" x2="627.50" y2="172.60" stroke="#8f8f8f" stroke-width="1.375" />
<line x1="641.50" y1="170.40" x2="641.50" y2="172.60" stroke="#8f8f8f" stroke-width="1.375" />
<line x1="656.50" y1="170.40" x2="656.50" y2="172.60" stroke="#8f8f8f" stroke-width="1.375" />
<line x1="670.50" y1="170.40" x2="670.50" y2="172.60" stroke="#8f8f8f" stroke-width="1.375" />
<line x1="685.50" y1="170.40" x2="685.50" y2="172.60" stroke="#8f8f8f" stroke-width="1.375" />
<text x="620.20" y="174.03" font-size="9.3" text-anchor="end" font-weight="bold" fill="#000" >0</text>
<text x="623.90" y="143.38" font-size="9.3" text-anchor="end" font-weight="bold" fill="#000" >4000</text>
<text x="623.90" y="112.73" font-size="9.3" text-anchor="end" font-weight="bold" fill="#000" >8000</text>
<text x="623.90" y="82.08" font-size="9.3" text-anchor="end" font-weight="bold" fill="#000" >12000</text>
<text x="623.90" y="51.33" font-size="9.3" text-anchor="end" font-weight="bold" fill="#000" >16000</text>
<line x1="633.70" y1="52.50" x2="677.10" y2="52.50" stroke="#1f1f1f" stroke-width="1.6" />
<text x="653.71" y="54.19" font-size="11.5" font-weight="bold" fill="#000" style="stroke-width:0.25px">*</text>
<text x="633.50" y="182.20" font-size="9.0" text-anchor="middle" font-weight="bold" fill="#000" >0</text>
<text x="647.90" y="182.20" font-size="9.0" text-anchor="middle" font-weight="bold" fill="#000" >1</text>
<text x="662.10" y="182.20" font-size="9.0" text-anchor="middle" font-weight="bold" fill="#000" >5</text>
<text x="678.00" y="182.20" font-size="9.0" text-anchor="middle" font-weight="bold" fill="#000" >10</text>
<text x="34.00" y="256.70" font-size="16" text-anchor="start" font-weight="bold" fill="#000" >c</text>
<text x="123.50" y="258.50" font-size="10.4" text-anchor="middle" font-weight="bold" fill="#000" >CD80</text>
<text x="233.00" y="258.50" font-size="10.4" text-anchor="middle" font-weight="bold" fill="#000" >CD86</text>
<text transform="translate(45.00,347.30) rotate(-90)" font-size="10.1" text-anchor="middle" font-weight="bold" fill="#000">MFI</text>
<line x1="92.50" y1="338.00" x2="92.50" y2="334.30" stroke="#555" stroke-width="0.9" />
<line x1="90.35" y1="334.50" x2="94.75" y2="334.50" stroke="#555" stroke-width="0.9" />
<rect x="89.20" y="338.00" width="6.70" height="91.00" fill="#1c1c1c" />
<line x1="108.50" y1="307.94" x2="108.50" y2="299.80" stroke="#555" stroke-width="0.9" />
<line x1="105.85" y1="299.50" x2="110.25" y2="299.50" stroke="#555" stroke-width="0.9" />
<rect x="104.70" y="307.94" width="6.70" height="121.06" fill="#1c1c1c" />
<line x1="123.50" y1="320.94" x2="123.50" y2="311.20" stroke="#555" stroke-width="0.9" />
<line x1="121.35" y1="311.50" x2="125.75" y2="311.50" stroke="#555" stroke-width="0.9" />
<rect x="120.20" y="320.94" width="6.70" height="108.06" fill="#1c1c1c" />
<line x1="138.50" y1="324.19" x2="138.50" y2="321.50" stroke="#555" stroke-width="0.9" />
<line x1="136.65" y1="321.50" x2="141.05" y2="321.50" stroke="#555" stroke-width="0.9" />
<rect x="135.50" y="324.19" width="6.70" height="104.81" fill="#1c1c1c" />
<line x1="154.50" y1="344.09" x2="154.50" y2="342.30" stroke="#555" stroke-width="0.9" />
<line x1="152.45" y1="342.50" x2="156.85" y2="342.50" stroke="#555" stroke-width="0.9" />
<rect x="151.30" y="344.09" width="6.70" height="84.91" fill="#1c1c1c" />
<line x1="84.50" y1="266.40" x2="84.50" y2="429.50" stroke="#1f1f1f" stroke-width="1.25" />
<line x1="82.70" y1="429.50" x2="162.50" y2="429.50" stroke="#1f1f1f" stroke-width="1.25" />
<line x1="82.10" y1="388.50" x2="84.40" y2="388.50" stroke="#1f1f1f" stroke-width="1.25" />
<line x1="82.10" y1="347.50" x2="84.40" y2="347.50" stroke="#1f1f1f" stroke-width="1.25" />
<line x1="82.10" y1="307.50" x2="84.40" y2="307.50" stroke="#1f1f1f" stroke-width="1.25" />
<line x1="82.10" y1="266.50" x2="84.40" y2="266.50" stroke="#1f1f1f" stroke-width="1.25" />
<line x1="84.50" y1="429.00" x2="84.50" y2="431.20" stroke="#1f1f1f" stroke-width="1.375" />
<line x1="100.50" y1="429.00" x2="100.50" y2="431.20" stroke="#1f1f1f" stroke-width="1.375" />
<line x1="116.50" y1="429.00" x2="116.50" y2="431.20" stroke="#1f1f1f" stroke-width="1.375" />
<line x1="131.50" y1="429.00" x2="131.50" y2="431.20" stroke="#1f1f1f" stroke-width="1.375" />
<line x1="147.50" y1="429.00" x2="147.50" y2="431.20" stroke="#1f1f1f" stroke-width="1.375" />
<line x1="162.50" y1="429.00" x2="162.50" y2="431.20" stroke="#1f1f1f" stroke-width="1.375" />
<text x="77.00" y="433.00" font-size="9.5" text-anchor="end" font-weight="bold" fill="#000" >0</text>
<text x="77.00" y="391.98" font-size="9.5" text-anchor="end" font-weight="bold" fill="#000" >1000</text>
<text x="77.00" y="351.35" font-size="9.5" text-anchor="end" font-weight="bold" fill="#000" >2000</text>
<text x="77.00" y="310.73" font-size="9.5" text-anchor="end" font-weight="bold" fill="#000" >3000</text>
<text x="77.00" y="270.30" font-size="9.5" text-anchor="end" font-weight="bold" fill="#000" >4000</text>
<line x1="92.50" y1="294.50" x2="107.90" y2="294.50" stroke="#1a1a1a" stroke-width="1.7" />
<text x="97.41" y="296.26" font-size="15.0" font-weight="bold" fill="#000" style="stroke-width:0.25px">*</text>
<line x1="108.00" y1="282.50" x2="155.00" y2="282.50" stroke="#1a1a1a" stroke-width="1.7" />
<text x="129.51" y="284.36" font-size="15.0" font-weight="bold" fill="#000" style="stroke-width:0.25px">*</text>
<text x="80.80" y="445.00" font-size="9.2" text-anchor="end" font-weight="bold" fill="#000" >HMGB1</text>
<text x="64.30" y="459.00" font-size="9.2" text-anchor="middle" font-weight="bold" fill="#000" >GL</text>
<text x="64.00" y="469.60" font-size="9.2" text-anchor="middle" font-weight="bold" fill="#000" >(mg/ml)</text>
<text x="89.67" y="444.09" font-size="10.16" font-weight="bold" fill="#000" style="stroke-width:0.45px">–</text>
<text x="102.25" y="444.46" font-size="12.26" font-weight="normal" fill="#000" style="font-family:'DejaVu Sans Light','DejaVu Sans',sans-serif;stroke-width:0.6px">+</text>
<text x="117.75" y="444.46" font-size="12.26" font-weight="normal" fill="#000" style="font-family:'DejaVu Sans Light','DejaVu Sans',sans-serif;stroke-width:0.6px">+</text>
<text x="133.55" y="444.46" font-size="12.26" font-weight="normal" fill="#000" style="font-family:'DejaVu Sans Light','DejaVu Sans',sans-serif;stroke-width:0.6px">+</text>
<text x="148.95" y="444.46" font-size="12.26" font-weight="normal" fill="#000" style="font-family:'DejaVu Sans Light','DejaVu Sans',sans-serif;stroke-width:0.6px">+</text>
<text x="92.70" y="459.00" font-size="9.2" text-anchor="middle" font-weight="bold" fill="#000" >0</text>
<text x="108.40" y="459.00" font-size="9.2" text-anchor="middle" font-weight="bold" fill="#000" >0</text>
<text x="123.70" y="459.00" font-size="9.2" text-anchor="middle" font-weight="bold" fill="#000" >0.2</text>
<text x="139.50" y="459.00" font-size="9.2" text-anchor="middle" font-weight="bold" fill="#000" >0.5</text>
<text x="153.80" y="459.00" font-size="9.2" text-anchor="middle" font-weight="bold" fill="#000" >1</text>
<line x1="202.50" y1="347.21" x2="202.50" y2="337.30" stroke="#555" stroke-width="0.9" />
<line x1="200.00" y1="337.50" x2="204.40" y2="337.50" stroke="#555" stroke-width="0.9" />
<rect x="198.80" y="347.21" width="6.80" height="81.79" fill="#1c1c1c" />
<line x1="217.50" y1="306.04" x2="217.50" y2="295.30" stroke="#555" stroke-width="0.9" />
<line x1="215.50" y1="295.50" x2="219.90" y2="295.50" stroke="#555" stroke-width="0.9" />
<rect x="214.30" y="306.04" width="6.80" height="122.96" fill="#1c1c1c" />
<line x1="233.50" y1="315.52" x2="233.50" y2="306.00" stroke="#555" stroke-width="0.9" />
<line x1="231.20" y1="306.50" x2="235.60" y2="306.50" stroke="#555" stroke-width="0.9" />
<rect x="230.00" y="315.52" width="6.80" height="113.48" fill="#1c1c1c" />
<line x1="248.50" y1="324.19" x2="248.50" y2="320.50" stroke="#555" stroke-width="0.9" />
<line x1="246.50" y1="320.50" x2="250.90" y2="320.50" stroke="#555" stroke-width="0.9" />
<rect x="245.30" y="324.19" width="6.80" height="104.81" fill="#1c1c1c" />
<line x1="264.50" y1="350.46" x2="264.50" y2="341.80" stroke="#555" stroke-width="0.9" />
<line x1="262.10" y1="341.50" x2="266.50" y2="341.50" stroke="#555" stroke-width="0.9" />
<rect x="260.90" y="350.46" width="6.80" height="78.54" fill="#1c1c1c" />
<line x1="194.50" y1="266.00" x2="194.50" y2="429.50" stroke="#1f1f1f" stroke-width="1.25" />
<line x1="192.00" y1="429.50" x2="272.50" y2="429.50" stroke="#1f1f1f" stroke-width="1.25" />
<line x1="191.50" y1="374.50" x2="193.80" y2="374.50" stroke="#1f1f1f" stroke-width="1.25" />
<line x1="191.50" y1="320.50" x2="193.80" y2="320.50" stroke="#1f1f1f" stroke-width="1.25" />
<line x1="191.50" y1="266.50" x2="193.80" y2="266.50" stroke="#1f1f1f" stroke-width="1.25" />
<line x1="194.50" y1="429.00" x2="194.50" y2="431.20" stroke="#1f1f1f" stroke-width="1.375" />
<line x1="210.50" y1="429.00" x2="210.50" y2="431.20" stroke="#1f1f1f" stroke-width="1.375" />
<line x1="225.50" y1="429.00" x2="225.50" y2="431.20" stroke="#1f1f1f" stroke-width="1.375" />
<line x1="241.50" y1="429.00" x2="241.50" y2="431.20" stroke="#1f1f1f" stroke-width="1.375" />
<line x1="256.50" y1="429.00" x2="256.50" y2="431.20" stroke="#1f1f1f" stroke-width="1.375" />
<line x1="272.50" y1="429.00" x2="272.50" y2="431.20" stroke="#1f1f1f" stroke-width="1.375" />
<text x="187.40" y="433.00" font-size="9.5" text-anchor="end" font-weight="bold" fill="#000" >0</text>
<text x="187.20" y="378.43" font-size="9.5" text-anchor="end" font-weight="bold" fill="#000" >2000</text>
<text x="187.20" y="324.27" font-size="9.5" text-anchor="end" font-weight="bold" fill="#000" >4000</text>
<text x="187.20" y="270.20" font-size="9.5" text-anchor="end" font-weight="bold" fill="#000" >6000</text>
<line x1="202.00" y1="289.50" x2="218.00" y2="289.50" stroke="#1a1a1a" stroke-width="1.7" />
<text x="207.51" y="291.06" font-size="15.0" font-weight="bold" fill="#000" style="stroke-width:0.25px">*</text>
<line x1="218.00" y1="277.50" x2="264.50" y2="277.50" stroke="#1a1a1a" stroke-width="1.7" />
<text x="239.01" y="279.86" font-size="15.0" font-weight="bold" fill="#000" style="stroke-width:0.25px">*</text>
<text x="199.87" y="444.09" font-size="10.16" font-weight="bold" fill="#000" style="stroke-width:0.45px">–</text>
<text x="212.35" y="444.46" font-size="12.26" font-weight="normal" fill="#000" style="font-family:'DejaVu Sans Light','DejaVu Sans',sans-serif;stroke-width:0.6px">+</text>
<text x="228.05" y="444.46" font-size="12.26" font-weight="normal" fill="#000" style="font-family:'DejaVu Sans Light','DejaVu Sans',sans-serif;stroke-width:0.6px">+</text>
<text x="243.55" y="444.46" font-size="12.26" font-weight="normal" fill="#000" style="font-family:'DejaVu Sans Light','DejaVu Sans',sans-serif;stroke-width:0.6px">+</text>
<text x="259.05" y="444.46" font-size="12.26" font-weight="normal" fill="#000" style="font-family:'DejaVu Sans Light','DejaVu Sans',sans-serif;stroke-width:0.6px">+</text>
<text x="202.90" y="459.00" font-size="9.2" text-anchor="middle" font-weight="bold" fill="#000" >0</text>
<text x="218.30" y="459.00" font-size="9.2" text-anchor="middle" font-weight="bold" fill="#000" >0</text>
<text x="233.80" y="459.00" font-size="9.2" text-anchor="middle" font-weight="bold" fill="#000" >0.2</text>
<text x="249.60" y="459.00" font-size="9.2" text-anchor="middle" font-weight="bold" fill="#000" >0.5</text>
<text x="263.70" y="459.00" font-size="9.2" text-anchor="middle" font-weight="bold" fill="#000" >1</text>
<text x="325.30" y="246.80" font-size="16" text-anchor="start" font-weight="bold" fill="#000" >d</text>
<text x="382.60" y="244.80" font-size="10.4" font-weight="bold" fill="#000" textLength="113.0" lengthAdjust="spacing">DEC-205<tspan font-size="6.6" dy="-2.9">+</tspan><tspan dy="2.9"> CD11c</tspan><tspan font-size="6.6" dy="-2.9">+</tspan><tspan dy="2.9"> DCs</tspan></text>
<line x1="375.20" y1="250.50" x2="501.00" y2="250.50" stroke="#222" stroke-width="1.2" />
<text x="542.20" y="244.80" font-size="10.4" font-weight="bold" fill="#000" textLength="101.4" lengthAdjust="spacing">DCIR2<tspan font-size="6.6" dy="-2.9">+</tspan><tspan dy="2.9"> CD11c</tspan><tspan font-size="6.6" dy="-2.9">+</tspan><tspan dy="2.9"> DCs</tspan></text>
<line x1="531.00" y1="250.50" x2="655.40" y2="250.50" stroke="#222" stroke-width="1.2" />
<text x="383.60" y="264.00" font-size="10.4" text-anchor="start" font-weight="bold" fill="#000" >CD80</text>
<text x="478.30" y="264.00" font-size="10.4" text-anchor="middle" font-weight="bold" fill="#000" >CD86</text>
<text x="554.30" y="264.00" font-size="10.4" text-anchor="middle" font-weight="bold" fill="#000" >CD80</text>
<text x="634.40" y="264.00" font-size="10.4" text-anchor="middle" font-weight="bold" fill="#000" >CD86</text>
<text transform="translate(340.90,349.10) rotate(-90)" font-size="10.3" text-anchor="middle" font-weight="bold" fill="#000">MFI</text>
<line x1="385.50" y1="332.73" x2="385.50" y2="332.40" stroke="#555" stroke-width="0.9" />
<line x1="383.20" y1="332.50" x2="387.20" y2="332.50" stroke="#555" stroke-width="0.9" />
<rect x="381.90" y="332.73" width="6.60" height="105.37" fill="#1c1c1c" />
<line x1="400.50" y1="310.65" x2="400.50" y2="306.20" stroke="#555" stroke-width="0.9" />
<line x1="398.50" y1="306.50" x2="402.50" y2="306.50" stroke="#555" stroke-width="0.9" />
<rect x="397.20" y="310.65" width="6.60" height="127.45" fill="#1c1c1c" />
<line x1="416.50" y1="337.72" x2="416.50" y2="334.50" stroke="#555" stroke-width="0.9" />
<line x1="414.60" y1="334.50" x2="418.60" y2="334.50" stroke="#555" stroke-width="0.9" />
<rect x="413.30" y="337.72" width="6.60" height="100.38" fill="#1c1c1c" />
<line x1="376.50" y1="271.50" x2="376.50" y2="438.60" stroke="#1f1f1f" stroke-width="1.25" />
<line x1="375.80" y1="438.50" x2="424.60" y2="438.50" stroke="#1f1f1f" stroke-width="1.25" />
<line x1="373.90" y1="396.50" x2="376.00" y2="396.50" stroke="#1f1f1f" stroke-width="1.25" />
<line x1="373.90" y1="354.50" x2="376.00" y2="354.50" stroke="#1f1f1f" stroke-width="1.25" />
<line x1="373.90" y1="313.50" x2="376.00" y2="313.50" stroke="#1f1f1f" stroke-width="1.25" />
<line x1="373.90" y1="271.50" x2="376.00" y2="271.50" stroke="#1f1f1f" stroke-width="1.25" />
<line x1="376.50" y1="438.10" x2="376.50" y2="440.30" stroke="#1f1f1f" stroke-width="1.375" />
<line x1="392.50" y1="438.10" x2="392.50" y2="440.30" stroke="#1f1f1f" stroke-width="1.375" />
<line x1="408.50" y1="438.10" x2="408.50" y2="440.30" stroke="#1f1f1f" stroke-width="1.375" />
<line x1="424.50" y1="438.10" x2="424.50" y2="440.30" stroke="#1f1f1f" stroke-width="1.375" />
<text x="369.00" y="441.99" font-size="9.2" text-anchor="end" font-weight="bold" fill="#000" >0</text>
<text x="369.00" y="400.54" font-size="9.2" text-anchor="end" font-weight="bold" fill="#000" >500</text>
<text x="369.00" y="358.89" font-size="9.2" text-anchor="end" font-weight="bold" fill="#000" >1000</text>
<text x="369.00" y="317.04" font-size="9.2" text-anchor="end" font-weight="bold" fill="#000" >1500</text>
<text x="369.00" y="275.19" font-size="9.2" text-anchor="end" font-weight="bold" fill="#000" >2000</text>
<line x1="384.20" y1="299.50" x2="399.40" y2="299.50" stroke="#1a1a1a" stroke-width="1.7" />
<text x="388.31" y="301.96" font-size="15.0" font-weight="bold" fill="#000" style="stroke-width:0.25px">*</text>
<line x1="399.70" y1="289.50" x2="415.30" y2="289.50" stroke="#1a1a1a" stroke-width="1.7" />
<text x="404.41" y="292.26" font-size="15.0" font-weight="bold" fill="#000" style="stroke-width:0.25px">*</text>
<text x="372.00" y="452.60" font-size="9.2" text-anchor="end" font-weight="bold" fill="#000" >HMGB1</text>
<text x="355.60" y="465.70" font-size="9.2" text-anchor="middle" font-weight="bold" fill="#000" >GL</text>
<text x="378.94" y="454.77" font-size="14.19" font-weight="normal" fill="#000" style="font-family:'DejaVu Sans Light','DejaVu Sans',sans-serif;stroke-width:0.6px">−</text>
<text x="394.95" y="454.16" font-size="12.26" font-weight="normal" fill="#000" style="font-family:'DejaVu Sans Light','DejaVu Sans',sans-serif;stroke-width:0.6px">+</text>
<text x="410.65" y="454.16" font-size="12.26" font-weight="normal" fill="#000" style="font-family:'DejaVu Sans Light','DejaVu Sans',sans-serif;stroke-width:0.6px">+</text>
<text x="378.94" y="466.97" font-size="14.19" font-weight="normal" fill="#000" style="font-family:'DejaVu Sans Light','DejaVu Sans',sans-serif;stroke-width:0.6px">−</text>
<text x="394.14" y="466.97" font-size="14.19" font-weight="normal" fill="#000" style="font-family:'DejaVu Sans Light','DejaVu Sans',sans-serif;stroke-width:0.6px">−</text>
<text x="410.65" y="466.36" font-size="12.26" font-weight="normal" fill="#000" style="font-family:'DejaVu Sans Light','DejaVu Sans',sans-serif;stroke-width:0.6px">+</text>
<line x1="462.50" y1="339.97" x2="462.50" y2="335.30" stroke="#555" stroke-width="0.9" />
<line x1="460.20" y1="335.50" x2="464.20" y2="335.50" stroke="#555" stroke-width="0.9" />
<rect x="458.80" y="339.97" width="6.80" height="98.13" fill="#1c1c1c" />
<line x1="478.50" y1="317.48" x2="478.50" y2="310.40" stroke="#555" stroke-width="0.9" />
<line x1="476.40" y1="310.50" x2="480.40" y2="310.50" stroke="#555" stroke-width="0.9" />
<rect x="475.00" y="317.48" width="6.80" height="120.62" fill="#1c1c1c" />
<line x1="494.50" y1="347.63" x2="494.50" y2="341.10" stroke="#555" stroke-width="0.9" />
<line x1="492.30" y1="341.50" x2="496.30" y2="341.50" stroke="#555" stroke-width="0.9" />
<rect x="490.90" y="347.63" width="6.80" height="90.47" fill="#1c1c1c" />
<line x1="454.50" y1="271.50" x2="454.50" y2="438.60" stroke="#1f1f1f" stroke-width="1.25" />
<line x1="453.40" y1="438.50" x2="502.10" y2="438.50" stroke="#1f1f1f" stroke-width="1.25" />
<line x1="451.70" y1="390.50" x2="453.80" y2="390.50" stroke="#1f1f1f" stroke-width="1.25" />
<line x1="451.70" y1="342.50" x2="453.80" y2="342.50" stroke="#1f1f1f" stroke-width="1.25" />
<line x1="451.70" y1="294.50" x2="453.80" y2="294.50" stroke="#1f1f1f" stroke-width="1.25" />
<line x1="454.50" y1="438.10" x2="454.50" y2="440.30" stroke="#1f1f1f" stroke-width="1.375" />
<line x1="470.50" y1="438.10" x2="470.50" y2="440.30" stroke="#1f1f1f" stroke-width="1.375" />
<line x1="486.50" y1="438.10" x2="486.50" y2="440.30" stroke="#1f1f1f" stroke-width="1.375" />
<line x1="501.50" y1="438.10" x2="501.50" y2="440.30" stroke="#1f1f1f" stroke-width="1.375" />
<text x="446.50" y="441.99" font-size="9.2" text-anchor="end" font-weight="bold" fill="#000" >0</text>
<text x="447.40" y="394.23" font-size="9.2" text-anchor="end" font-weight="bold" fill="#000" >1000</text>
<text x="447.40" y="346.36" font-size="9.2" text-anchor="end" font-weight="bold" fill="#000" >2000</text>
<text x="447.40" y="298.39" font-size="9.2" text-anchor="end" font-weight="bold" fill="#000" >3000</text>
<line x1="462.20" y1="305.50" x2="477.10" y2="305.50" stroke="#1a1a1a" stroke-width="1.7" />
<text x="466.31" y="307.96" font-size="15.0" font-weight="bold" fill="#000" style="stroke-width:0.25px">*</text>
<line x1="477.90" y1="295.50" x2="493.40" y2="295.50" stroke="#1a1a1a" stroke-width="1.7" />
<text x="482.51" y="298.26" font-size="15.0" font-weight="bold" fill="#000" style="stroke-width:0.25px">*</text>
<text x="456.74" y="454.77" font-size="14.19" font-weight="normal" fill="#000" style="font-family:'DejaVu Sans Light','DejaVu Sans',sans-serif;stroke-width:0.6px">−</text>
<text x="473.15" y="454.16" font-size="12.26" font-weight="normal" fill="#000" style="font-family:'DejaVu Sans Light','DejaVu Sans',sans-serif;stroke-width:0.6px">+</text>
<text x="488.95" y="454.16" font-size="12.26" font-weight="normal" fill="#000" style="font-family:'DejaVu Sans Light','DejaVu Sans',sans-serif;stroke-width:0.6px">+</text>
<text x="456.74" y="466.97" font-size="14.19" font-weight="normal" fill="#000" style="font-family:'DejaVu Sans Light','DejaVu Sans',sans-serif;stroke-width:0.6px">−</text>
<text x="472.34" y="466.97" font-size="14.19" font-weight="normal" fill="#000" style="font-family:'DejaVu Sans Light','DejaVu Sans',sans-serif;stroke-width:0.6px">−</text>
<text x="488.95" y="466.36" font-size="12.26" font-weight="normal" fill="#000" style="font-family:'DejaVu Sans Light','DejaVu Sans',sans-serif;stroke-width:0.6px">+</text>
<line x1="540.50" y1="332.31" x2="540.50" y2="329.30" stroke="#555" stroke-width="0.9" />
<line x1="538.55" y1="329.50" x2="542.55" y2="329.50" stroke="#555" stroke-width="0.9" />
<rect x="537.20" y="332.31" width="6.70" height="105.79" fill="#1c1c1c" />
<line x1="556.50" y1="306.07" x2="556.50" y2="300.40" stroke="#555" stroke-width="0.9" />
<line x1="554.25" y1="300.50" x2="558.25" y2="300.50" stroke="#555" stroke-width="0.9" />
<rect x="552.90" y="306.07" width="6.70" height="132.03" fill="#1c1c1c" />
<line x1="572.50" y1="332.98" x2="572.50" y2="326.60" stroke="#555" stroke-width="0.9" />
<line x1="570.15" y1="326.50" x2="574.15" y2="326.50" stroke="#555" stroke-width="0.9" />
<rect x="568.80" y="332.98" width="6.70" height="105.12" fill="#1c1c1c" />
<line x1="532.50" y1="271.50" x2="532.50" y2="438.60" stroke="#1f1f1f" stroke-width="1.25" />
<line x1="531.50" y1="438.50" x2="579.90" y2="438.50" stroke="#1f1f1f" stroke-width="1.25" />
<line x1="530.00" y1="396.50" x2="532.10" y2="396.50" stroke="#1f1f1f" stroke-width="1.25" />
<line x1="530.00" y1="354.50" x2="532.10" y2="354.50" stroke="#1f1f1f" stroke-width="1.25" />
<line x1="530.00" y1="313.50" x2="532.10" y2="313.50" stroke="#1f1f1f" stroke-width="1.25" />
<line x1="530.00" y1="271.50" x2="532.10" y2="271.50" stroke="#1f1f1f" stroke-width="1.25" />
<line x1="532.50" y1="438.10" x2="532.50" y2="440.30" stroke="#1f1f1f" stroke-width="1.375" />
<line x1="548.50" y1="438.10" x2="548.50" y2="440.30" stroke="#1f1f1f" stroke-width="1.375" />
<line x1="564.50" y1="438.10" x2="564.50" y2="440.30" stroke="#1f1f1f" stroke-width="1.375" />
<line x1="579.50" y1="438.10" x2="579.50" y2="440.30" stroke="#1f1f1f" stroke-width="1.375" />
<text x="524.80" y="441.99" font-size="9.2" text-anchor="end" font-weight="bold" fill="#000" >0</text>
<text x="524.80" y="400.54" font-size="9.2" text-anchor="end" font-weight="bold" fill="#000" >500</text>
<text x="524.80" y="358.89" font-size="9.2" text-anchor="end" font-weight="bold" fill="#000" >1000</text>
<text x="524.80" y="317.04" font-size="9.2" text-anchor="end" font-weight="bold" fill="#000" >1500</text>
<text x="524.80" y="275.19" font-size="9.2" text-anchor="end" font-weight="bold" fill="#000" >2000</text>
<line x1="540.50" y1="293.50" x2="555.70" y2="293.50" stroke="#1a1a1a" stroke-width="1.7" />
<text x="544.81" y="296.86" font-size="15.0" font-weight="bold" fill="#000" style="stroke-width:0.25px">*</text>
<line x1="555.70" y1="284.50" x2="571.50" y2="284.50" stroke="#1a1a1a" stroke-width="1.7" />
<text x="560.31" y="286.96" font-size="15.0" font-weight="bold" fill="#000" style="stroke-width:0.25px">*</text>
<text x="534.94" y="454.77" font-size="14.19" font-weight="normal" fill="#000" style="font-family:'DejaVu Sans Light','DejaVu Sans',sans-serif;stroke-width:0.6px">−</text>
<text x="551.75" y="454.16" font-size="12.26" font-weight="normal" fill="#000" style="font-family:'DejaVu Sans Light','DejaVu Sans',sans-serif;stroke-width:0.6px">+</text>
<text x="567.25" y="454.16" font-size="12.26" font-weight="normal" fill="#000" style="font-family:'DejaVu Sans Light','DejaVu Sans',sans-serif;stroke-width:0.6px">+</text>
<text x="534.94" y="466.97" font-size="14.19" font-weight="normal" fill="#000" style="font-family:'DejaVu Sans Light','DejaVu Sans',sans-serif;stroke-width:0.6px">−</text>
<text x="550.94" y="466.97" font-size="14.19" font-weight="normal" fill="#000" style="font-family:'DejaVu Sans Light','DejaVu Sans',sans-serif;stroke-width:0.6px">−</text>
<text x="567.25" y="466.36" font-size="12.26" font-weight="normal" fill="#000" style="font-family:'DejaVu Sans Light','DejaVu Sans',sans-serif;stroke-width:0.6px">+</text>
<line x1="618.50" y1="336.62" x2="618.50" y2="334.50" stroke="#555" stroke-width="0.9" />
<line x1="616.70" y1="334.50" x2="620.70" y2="334.50" stroke="#555" stroke-width="0.9" />
<rect x="615.30" y="336.62" width="6.80" height="101.48" fill="#1c1c1c" />
<line x1="634.50" y1="315.56" x2="634.50" y2="309.60" stroke="#555" stroke-width="0.9" />
<line x1="632.60" y1="309.50" x2="636.60" y2="309.50" stroke="#555" stroke-width="0.9" />
<rect x="631.20" y="315.56" width="6.80" height="122.54" fill="#1c1c1c" />
<line x1="650.50" y1="349.07" x2="650.50" y2="344.50" stroke="#555" stroke-width="0.9" />
<line x1="648.40" y1="344.50" x2="652.40" y2="344.50" stroke="#555" stroke-width="0.9" />
<rect x="647.00" y="349.07" width="6.80" height="89.03" fill="#1c1c1c" />
<line x1="610.50" y1="271.50" x2="610.50" y2="438.60" stroke="#1f1f1f" stroke-width="1.25" />
<line x1="609.60" y1="438.50" x2="658.20" y2="438.50" stroke="#1f1f1f" stroke-width="1.25" />
<line x1="608.00" y1="390.50" x2="610.10" y2="390.50" stroke="#1f1f1f" stroke-width="1.25" />
<line x1="608.00" y1="342.50" x2="610.10" y2="342.50" stroke="#1f1f1f" stroke-width="1.25" />
<line x1="608.00" y1="294.50" x2="610.10" y2="294.50" stroke="#1f1f1f" stroke-width="1.25" />
<line x1="610.50" y1="438.10" x2="610.50" y2="440.30" stroke="#1f1f1f" stroke-width="1.375" />
<line x1="626.50" y1="438.10" x2="626.50" y2="440.30" stroke="#1f1f1f" stroke-width="1.375" />
<line x1="642.50" y1="438.10" x2="642.50" y2="440.30" stroke="#1f1f1f" stroke-width="1.375" />
<line x1="657.50" y1="438.10" x2="657.50" y2="440.30" stroke="#1f1f1f" stroke-width="1.375" />
<text x="602.80" y="441.99" font-size="9.2" text-anchor="end" font-weight="bold" fill="#000" >0</text>
<text x="604.00" y="394.23" font-size="9.2" text-anchor="end" font-weight="bold" fill="#000" >1000</text>
<text x="604.00" y="346.36" font-size="9.2" text-anchor="end" font-weight="bold" fill="#000" >2000</text>
<text x="604.00" y="298.39" font-size="9.2" text-anchor="end" font-weight="bold" fill="#000" >3000</text>
<line x1="618.50" y1="300.50" x2="633.70" y2="300.50" stroke="#1a1a1a" stroke-width="1.7" />
<text x="622.91" y="303.46" font-size="15.0" font-weight="bold" fill="#000" style="stroke-width:0.25px">*</text>
<line x1="634.30" y1="291.50" x2="649.50" y2="291.50" stroke="#1a1a1a" stroke-width="1.7" />
<text x="638.61" y="293.46" font-size="15.0" font-weight="bold" fill="#000" style="stroke-width:0.25px">*</text>
<text x="613.04" y="454.77" font-size="14.19" font-weight="normal" fill="#000" style="font-family:'DejaVu Sans Light','DejaVu Sans',sans-serif;stroke-width:0.6px">−</text>
<text x="629.25" y="454.16" font-size="12.26" font-weight="normal" fill="#000" style="font-family:'DejaVu Sans Light','DejaVu Sans',sans-serif;stroke-width:0.6px">+</text>
<text x="645.25" y="454.16" font-size="12.26" font-weight="normal" fill="#000" style="font-family:'DejaVu Sans Light','DejaVu Sans',sans-serif;stroke-width:0.6px">+</text>
<text x="613.04" y="466.97" font-size="14.19" font-weight="normal" fill="#000" style="font-family:'DejaVu Sans Light','DejaVu Sans',sans-serif;stroke-width:0.6px">−</text>
<text x="628.44" y="466.97" font-size="14.19" font-weight="normal" fill="#000" style="font-family:'DejaVu Sans Light','DejaVu Sans',sans-serif;stroke-width:0.6px">−</text>
<text x="645.25" y="466.36" font-size="12.26" font-weight="normal" fill="#000" style="font-family:'DejaVu Sans Light','DejaVu Sans',sans-serif;stroke-width:0.6px">+</text>
</svg>
</body></html>
